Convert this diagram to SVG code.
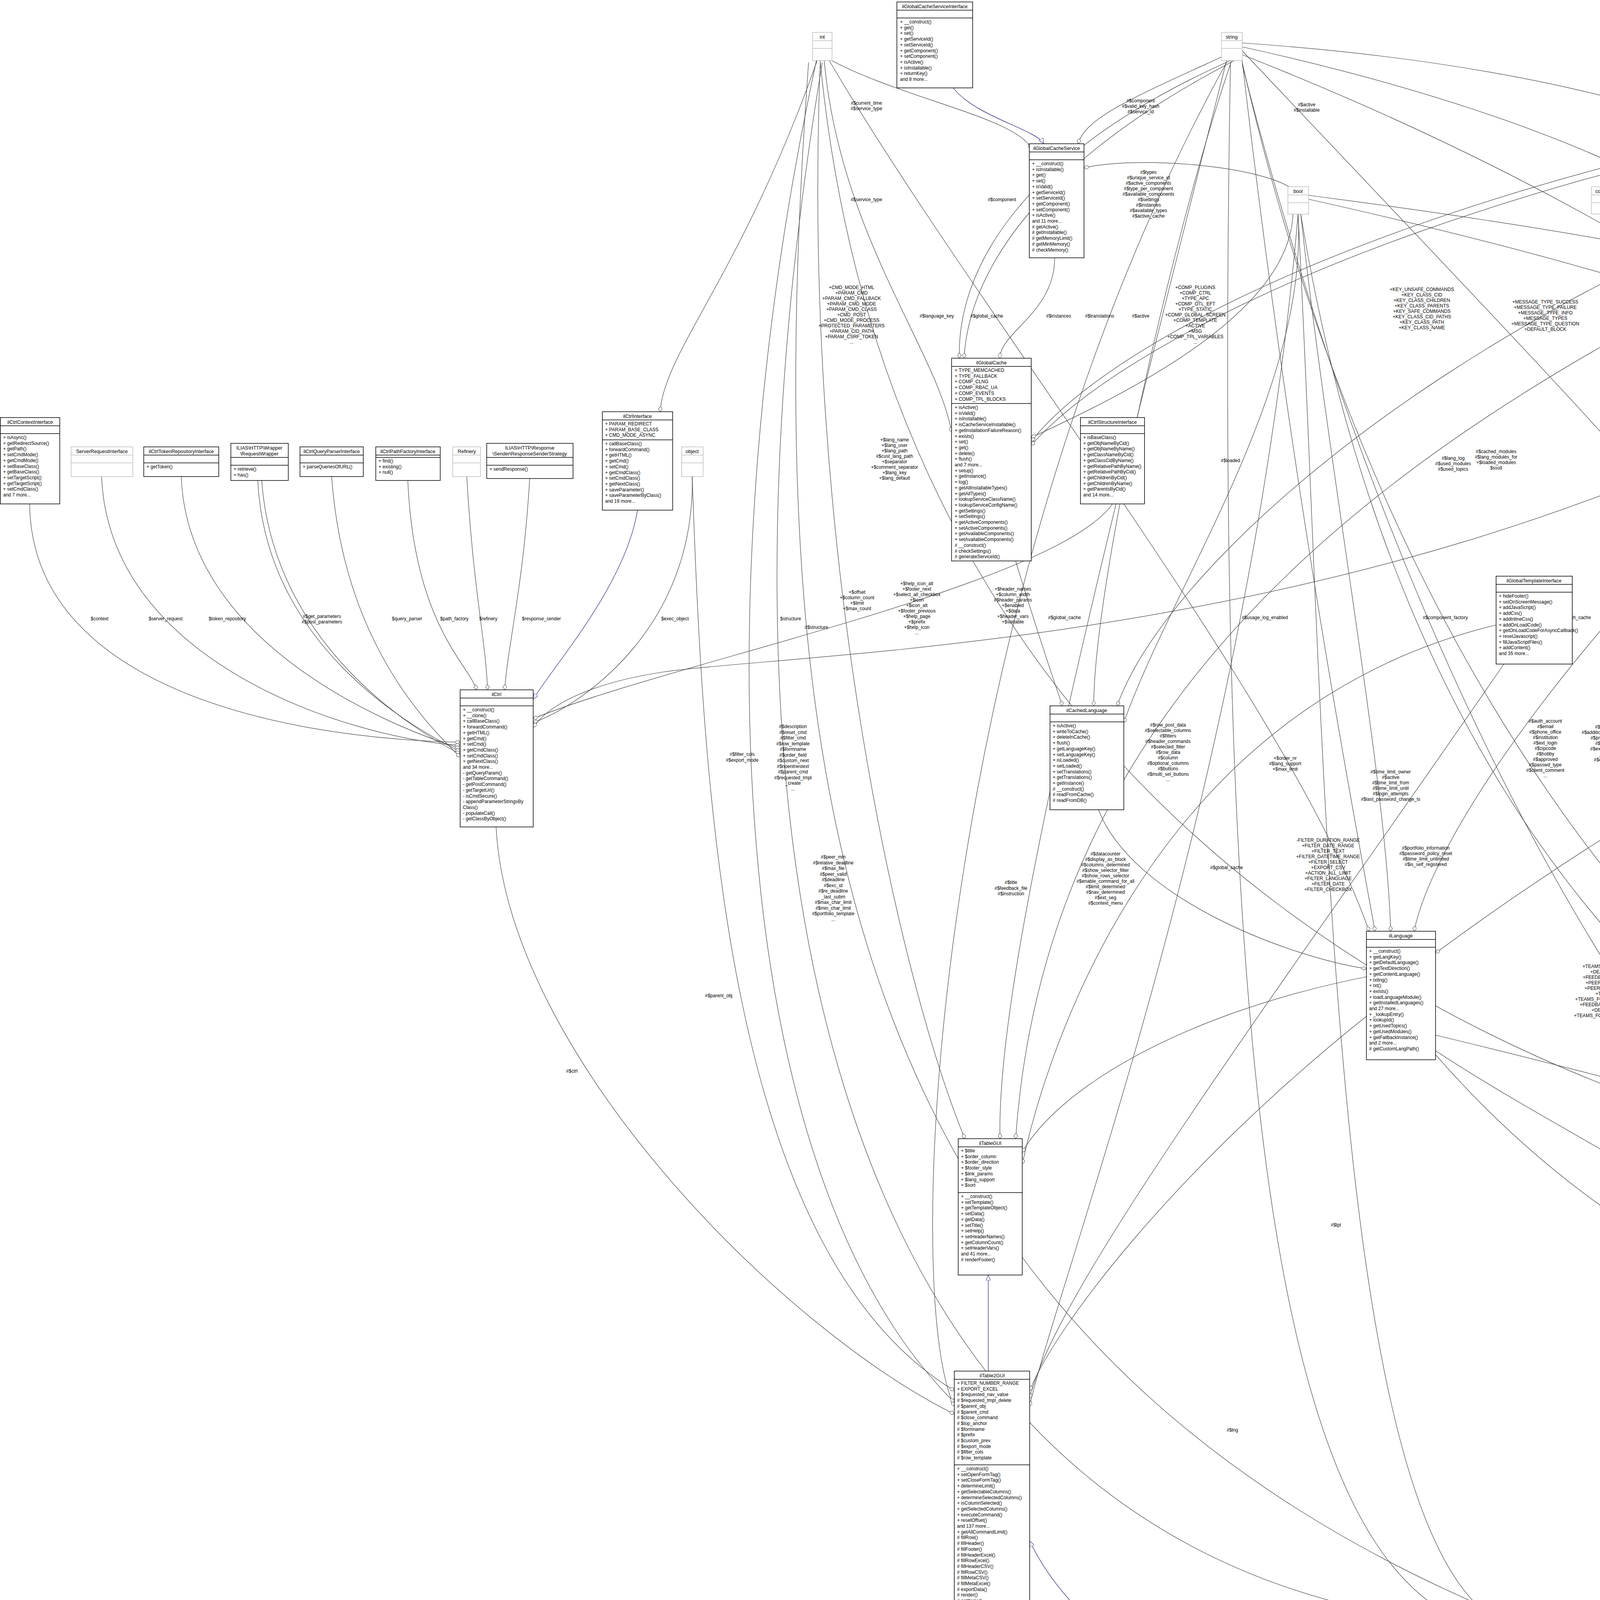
<svg xmlns="http://www.w3.org/2000/svg" width="7545" height="5201" viewBox="0 0 7545 5201">
<style>
.b{fill:#fff;stroke:#000;stroke-width:1.5}
.g{fill:#fff;stroke:#bfbfbf;stroke-width:1.5}
.gs{fill:#bfbfbf;stroke:#000;stroke-width:1.5}
.s{stroke:#000;stroke-width:1.5}
.sg{stroke:#bfbfbf;stroke-width:1.5}
.c{font-family:"Liberation Sans",Arial,sans-serif;font-size:12.5px;text-anchor:middle;fill:#000}
.m{font-family:"Liberation Sans",Arial,sans-serif;font-size:12px;fill:#000}
.l{font-family:"Liberation Sans",Arial,sans-serif;font-size:12px;text-anchor:middle;fill:#000}
.e{fill:none;stroke:#404040;stroke-width:1.2}
.i{fill:none;stroke:#191970;stroke-width:1.2}
.id{fill:none;stroke:#191970;stroke-width:1.2;stroke-dasharray:6,4}
</style>
<defs>
<marker id="agg" viewBox="0 0 14 10" refX="14" refY="5" markerWidth="14" markerHeight="10" markerUnits="userSpaceOnUse" orient="auto"><path d="M0,5 L7,0 L14,5 L7,10 z" fill="#fff" stroke="#404040"/></marker>
<marker id="inh" viewBox="0 0 14 12" refX="14" refY="6" markerWidth="14" markerHeight="12" markerUnits="userSpaceOnUse" orient="auto"><path d="M0,0 L14,6 L0,12 z" fill="#fff" stroke="#191970"/></marker>
</defs>
<rect width="7545" height="5201" fill="#fff"/>

<g id="edges">
<path class="i" marker-end="url(#inh)" d="M1632,1306 C1600,1500 1420,1700 1365,1790"/>
<path class="e" marker-end="url(#agg)" d="M76,1290 C80,1750 700,1890 1178,1900"/>
<path class="e" marker-end="url(#agg)" d="M260,1220 C280,1700 900,1890 1178,1908"/>
<path class="e" marker-end="url(#agg)" d="M464,1220 C480,1650 1000,1860 1178,1916"/>
<path class="e" marker-end="url(#agg)" d="M660,1230 C680,1650 1050,1860 1178,1924"/>
<path class="e" marker-end="url(#agg)" d="M670,1230 C700,1650 1060,1870 1178,1930"/>
<path class="e" marker-end="url(#agg)" d="M849,1220 C880,1650 1100,1860 1178,1938"/>
<path class="e" marker-end="url(#agg)" d="M1044,1230 C1060,1600 1200,1700 1220,1766"/>
<path class="e" marker-end="url(#agg)" d="M1195,1220 C1210,1500 1245,1650 1248,1766"/>
<path class="e" marker-end="url(#agg)" d="M1356,1225 C1340,1500 1300,1650 1292,1766"/>
<path class="e" marker-end="url(#agg)" d="M1772,1220 C1780,1600 1500,1800 1365,1850"/>
<path class="e" marker-end="url(#agg)" d="M2848,1290 C2700,1500 1700,1700 1365,1840"/>
<path class="e" marker-end="url(#agg)" d="M5760,140 C4500,1650 2200,1650 1700,1720 C1500,1750 1400,1810 1365,1862"/>
<path class="e" marker-end="url(#agg)" d="M2092,155 C1900,700 1700,900 1690,1054"/>
<path class="i" marker-end="url(#inh)" d="M2440,225 C2500,300 2650,330 2672,368"/>
<path class="e" marker-end="url(#agg)" d="M3140,140 C2900,250 2780,300 2760,368"/>
<path class="e" marker-end="url(#agg)" d="M2120,150 C2300,250 2600,300 2640,380"/>
<path class="e" marker-end="url(#agg)" d="M3300,478 C3200,420 2900,400 2775,430"/>
<path class="e" marker-end="url(#agg)" d="M2700,660 C2700,800 2560,850 2560,917"/>
<path class="e" marker-end="url(#agg)" d="M3150,155 C2600,400 2450,700 2456,917"/>
<path class="e" marker-end="url(#agg)" d="M3160,155 C2650,420 2480,700 2468,917"/>
<path class="e" marker-end="url(#agg)" d="M5760,150 C4000,300 2900,800 2640,1130"/>
<path class="e" marker-end="url(#agg)" d="M5760,155 C4000,320 2920,820 2640,1140"/>
<path class="e" marker-end="url(#agg)" d="M3310,548 C3300,800 2900,1000 2640,1120"/>
<path class="e" marker-end="url(#agg)" d="M2110,155 C2150,600 2400,900 2436,1106"/>
<path class="e" marker-end="url(#agg)" d="M2600,1436 C2650,1600 2700,1750 2720,1807"/>
<path class="e" marker-end="url(#agg)" d="M3323,548 C3350,1000 3000,1500 2877,1850"/>
<path class="e" marker-end="url(#agg)" d="M5760,160 C4000,500 3000,1400 2860,1807"/>
<path class="e" marker-end="url(#agg)" d="M3153,155 C3000,600 2800,1500 2800,1807"/>
<path class="e" marker-end="url(#agg)" d="M2812,2073 C2900,2300 3300,2450 3498,2480"/>
<path class="e" marker-end="url(#agg)" d="M6359,1200 C5000,1500 4000,2200 3675,2440"/>
<path class="e" marker-end="url(#agg)" d="M3180,155 C3300,1200 3450,2000 3520,2384"/>
<path class="e" marker-end="url(#agg)" d="M3330,548 C3400,1200 3550,2000 3560,2384"/>
<path class="e" marker-end="url(#agg)" d="M5760,165 C4500,1000 3700,2000 3620,2384"/>
<path class="e" marker-end="url(#agg)" d="M2120,150 C2500,800 3300,1800 3505,2384"/>
<path class="i" marker-end="url(#inh)" d="M2530,3510 L2530,3264"/>
<path class="e" marker-end="url(#agg)" d="M3140,155 C2800,1500 2550,2500 2560,2915"/>
<path class="e" marker-end="url(#agg)" d="M2100,155 C2050,1400 2300,2500 2470,2915"/>
<path class="e" marker-end="url(#agg)" d="M5760,150 C4000,800 2700,1500 2600,2915"/>
<path class="e" marker-end="url(#agg)" d="M3500,2500 C3000,2600 2700,2800 2617,2950"/>
<path class="e" marker-end="url(#agg)" d="M3830,1600 C3000,1800 2700,2600 2617,2980"/>
<path class="e" marker-end="url(#agg)" d="M1270,2117 C1300,2700 2000,3400 2443,3620"/>
<path class="e" marker-end="url(#agg)" d="M3140,160 C2400,1500 2300,3300 2443,3600"/>
<path class="e" marker-end="url(#agg)" d="M2090,155 C1800,1500 1850,3000 2443,3590"/>
<path class="e" marker-end="url(#agg)" d="M1772,1220 C1800,2000 1850,3200 2443,3560"/>
<path class="e" marker-end="url(#agg)" d="M3323,548 C3200,2000 2700,3300 2636,3600"/>
<path class="e" marker-end="url(#agg)" d="M3500,2600 C3000,3000 2700,3400 2636,3560"/>
<path class="e" marker-end="url(#agg)" d="M3850,1700 C3300,2500 2700,3300 2636,3580"/>
<path class="i" marker-end="url(#inh)" d="M5435,5110 C4200,4800 2900,4500 2636,3945"/>
<path class="i" marker-end="url(#inh)" d="M4900,1035 C4880,850 4720,780 4700,710"/>
<path class="i" marker-end="url(#inh)" d="M4910,1035 C4900,840 4740,770 4720,710"/>
<path class="e" marker-end="url(#agg)" d="M4278,155 C4300,600 4750,900 4800,1035"/>
<path class="e" marker-end="url(#agg)" d="M3180,120 C4000,300 4700,600 4820,1035"/>
<path class="e" marker-end="url(#agg)" d="M3350,510 C4200,700 4800,900 4840,1035"/>
<path class="e" marker-end="url(#agg)" d="M4124,520 C4300,800 4700,950 4860,1035"/>
<path class="e" marker-end="url(#agg)" d="M4124,530 C4350,820 4720,960 4870,1035"/>
<path class="i" marker-end="url(#inh)" d="M5310,610 C5300,800 5200,900 5180,1035"/>
<path class="e" marker-end="url(#agg)" d="M3180,110 C4500,200 5150,600 5150,1035"/>
<path class="e" marker-end="url(#agg)" d="M5786,155 C5500,700 5250,800 5220,1035"/>
<path class="e" marker-end="url(#agg)" d="M3350,500 C4500,650 5100,800 5130,1035"/>
<path class="e" marker-end="url(#agg)" d="M5790,155 C5600,600 5500,900 5500,1055"/>
<path class="e" marker-end="url(#agg)" d="M4870,1326 C4800,1600 4720,1750 4700,1824"/>
<path class="e" marker-end="url(#agg)" d="M5170,1315 C5000,1600 4700,1750 4680,1824"/>
<path class="e" marker-end="url(#agg)" d="M3180,130 C4000,1000 4600,1600 4620,1824"/>
<path class="e" marker-end="url(#agg)" d="M6500,500 C5500,1000 4800,1500 4720,1824"/>
<path class="e" marker-end="url(#agg)" d="M4124,548 C4200,1200 4500,1700 4600,1824"/>
<path class="e" marker-end="url(#agg)" d="M5200,1315 C5250,1600 5270,1700 5280,1757"/>
<path class="e" marker-end="url(#agg)" d="M5500,1305 L5400,1757"/>
<path class="e" marker-end="url(#agg)" d="M5786,155 C5700,1000 5430,1500 5420,1757"/>
<path class="e" marker-end="url(#agg)" d="M4400,1225 C4900,1500 5200,1600 5250,1757"/>
<path class="e" marker-end="url(#agg)" d="M3180,140 C4600,700 5300,1400 5330,1757"/>
<path class="e" marker-end="url(#agg)" d="M6226,548 C6226,800 6400,900 6400,1069"/>
<path class="e" marker-end="url(#agg)" d="M5800,2050 L5790,2396"/>
<path class="e" marker-end="url(#agg)" d="M6530,637 C6100,1500 5900,2300 5835,2410"/>
<path class="e" marker-end="url(#agg)" d="M6380,1290 C6000,1800 5900,2300 5835,2430"/>
<path class="e" marker-end="url(#agg)" d="M5786,155 C5760,1200 5760,2200 5760,2396"/>
<path class="e" marker-end="url(#agg)" d="M5795,155 C5780,1200 5780,2200 5775,2396"/>
<path class="e" marker-end="url(#agg)" d="M6640,637 L6430,1721"/>
<path class="e" marker-end="url(#agg)" d="M6420,1290 L6400,1721"/>
<path class="e" marker-end="url(#agg)" d="M6680,637 C6700,1500 6650,2300 6600,2426"/>
<path class="e" marker-end="url(#agg)" d="M6500,2164 L6540,2426"/>
<path class="e" marker-end="url(#agg)" d="M6400,1290 C6300,1600 6250,1850 6240,1890"/>
<path class="e" marker-end="url(#agg)" d="M5500,1305 C5700,1600 6100,1700 6200,1890"/>
<path class="e" marker-end="url(#agg)" d="M4350,1225 C4800,1700 5900,1680 6180,1890"/>
<path class="e" marker-end="url(#agg)" d="M5813,120 C6800,300 7100,900 6540,1740"/>
<path class="e" marker-end="url(#agg)" d="M3675,2650 C4300,2800 4800,2950 5156,3014"/>
<path class="e" marker-end="url(#agg)" d="M3180,160 C3600,2000 4600,2900 5156,3030"/>
<path class="e" marker-end="url(#agg)" d="M2100,160 C2300,2200 4000,2900 5156,3045"/>
<path class="e" marker-end="url(#agg)" d="M3330,548 C3600,2200 4500,2900 5156,3060"/>
<path class="e" marker-end="url(#agg)" d="M4660,2080 C4800,2600 5000,2900 5156,3072"/>
<path class="e" marker-end="url(#agg)" d="M5680,2703 C5600,2800 5450,2790 5373,2810"/>
<path class="e" marker-end="url(#agg)" d="M5340,2125 C5300,2500 5300,2700 5300,2779"/>
<path class="e" marker-end="url(#agg)" d="M6230,2000 C6100,2500 5600,2750 5373,2790"/>
<path class="e" marker-end="url(#agg)" d="M6400,2164 C6300,2500 5500,2700 5373,2800"/>
<path class="e" marker-end="url(#agg)" d="M6500,2675 C6200,2800 5500,2790 5373,2830"/>
<path class="e" marker-end="url(#agg)" d="M6620,637 C7000,1500 6800,2600 5373,2845"/>
<path class="e" marker-end="url(#agg)" d="M6420,1290 C6800,2200 6300,2750 5373,2860"/>
<path class="i" marker-end="url(#inh)" d="M5265,3461 L5265,3397"/>
<path class="e" marker-end="url(#agg)" d="M5235,3461 C5232,3430 5236,3410 5238,3397"/>
<path class="e" marker-end="url(#agg)" d="M3675,2700 C4200,3300 4800,3460 5156,3465"/>
<path class="e" marker-end="url(#agg)" d="M4660,2080 C4700,2600 5000,3300 5156,3470"/>
<path class="e" marker-end="url(#agg)" d="M3180,165 C3700,2200 4600,3350 5156,3475"/>
<path class="e" marker-end="url(#agg)" d="M6560,637 C7100,2000 6200,3500 5368,3710"/>
<path class="e" marker-end="url(#agg)" d="M5800,155 C6200,1500 6000,3400 5368,3725"/>
<path class="e" marker-end="url(#agg)" d="M5330,4212 C5380,4250 5405,4265 5415,4280"/>
<path class="e" marker-end="url(#agg)" d="M5050,3933 C5100,4200 5300,4400 5406,4490"/>
<path class="e" marker-end="url(#agg)" d="M6440,3933 C6300,4400 5800,4550 5642,4600"/>
<path class="e" marker-end="url(#agg)" d="M6100,3875 C6000,4300 5700,4550 5642,4560"/>
<path class="e" marker-end="url(#agg)" d="M6720,637 C7250,1800 7150,3600 5642,4525"/>
<path class="e" marker-end="url(#agg)" d="M3150,160 C3100,3000 3300,4180 3900,4180 C4500,4200 5200,4430 5406,4440"/>
<path class="e" marker-end="url(#agg)" d="M2105,160 C1800,2000 2000,4100 3900,4170 C4500,4190 5200,4440 5406,4450"/>
<path class="e" marker-end="url(#agg)" d="M3323,548 C3400,2000 3400,4150 3920,4175 C4500,4200 5200,4445 5406,4458"/>
<path class="e" marker-end="url(#agg)" d="M3675,2690 C4300,3100 5200,3400 5406,4380"/>
<path class="e" marker-end="url(#agg)" d="M2070,160 C1900,2500 2300,4100 5406,4530"/>
<path class="e" marker-end="url(#agg)" d="M5524,4982 L5524,5048"/>
<path class="e" marker-end="url(#agg)" d="M5813,140 C7300,400 7400,4500 5620,5130"/>
<path class="e" marker-end="url(#agg)" d="M5813,150 C6900,600 7100,2000 6600,2700 C6200,3300 5800,3700 5642,4320"/>
<path class="id" marker-end="url(#inh)" d="M5960,3214 C5980,3500 6050,3700 6080,3798"/>
<path class="id" marker-end="url(#inh)" d="M6200,3170 C6180,3450 6120,3700 6105,3798"/>
<path class="id" marker-end="url(#inh)" d="M6460,3200 C6400,3500 6150,3700 6125,3798"/>
<path class="e" marker-end="url(#agg)" d="M6640,3120 C6620,3400 6500,3600 6490,3742"/>
<path class="e" marker-end="url(#agg)" d="M6620,637 C6900,1800 6500,2700 6480,2975"/>
<path class="e" marker-end="url(#agg)" d="M6420,1290 C6300,2200 6000,2700 5980,2962"/>
<path class="e" marker-end="url(#agg)" d="M5800,160 C6300,1200 7100,2700 6650,3050"/>
</g>

<g id="labels">
<text class="l" x="2180" y="740"><tspan x="2180">+CMD_MODE_HTML</tspan><tspan x="2180" dy="14">+PARAM_CMD</tspan><tspan x="2180" dy="14">+PARAM_CMD_FALLBACK</tspan><tspan x="2180" dy="14">+PARAM_CMD_MODE</tspan><tspan x="2180" dy="14">+PARAM_CMD_CLASS</tspan><tspan x="2180" dy="14">+CMD_POST</tspan><tspan x="2180" dy="14">+CMD_MODE_PROCESS</tspan><tspan x="2180" dy="14">+PROTECTED_PARAMETERS</tspan><tspan x="2180" dy="14">+PARAM_CID_PATH</tspan><tspan x="2180" dy="14">+PARAM_CSRF_TOKEN</tspan><tspan x="2180" dy="14">...</tspan></text>
<text class="l" x="2398" y="813">#$language_key</text>
<text class="l" x="2526" y="813">#$global_cache</text>
<text class="l" x="2710" y="813">#$instances</text>
<text class="l" x="2815" y="813">#$translations</text>
<text class="l" x="2920" y="813">#$active</text>
<text class="l" x="3060" y="740"><tspan x="3060">+COMP_PLUGINS</tspan><tspan x="3060" dy="14">+COMP_CTRL</tspan><tspan x="3060" dy="14">+TYPE_APC</tspan><tspan x="3060" dy="14">+COMP_OTL_EFT</tspan><tspan x="3060" dy="14">+TYPE_STATIC</tspan><tspan x="3060" dy="14">+COMP_GLOBAL_SCREEN</tspan><tspan x="3060" dy="14">+COMP_TEMPLATE</tspan><tspan x="3060" dy="14">+ACTIVE</tspan><tspan x="3060" dy="14">+MSG</tspan><tspan x="3060" dy="14">+COMP_TPL_VARIABLES</tspan><tspan x="3060" dy="14">...</tspan></text>
<text class="l" x="2218" y="268"><tspan x="2218">#$current_time</tspan><tspan x="2218" dy="14">#$service_type</tspan></text>
<text class="l" x="2920" y="262"><tspan x="2920">#$component</tspan><tspan x="2920" dy="14">#$valid_key_hash</tspan><tspan x="2920" dy="14">#$service_id</tspan></text>
<text class="l" x="3345" y="272"><tspan x="3345">#$active</tspan><tspan x="3345" dy="14">#$installable</tspan></text>
<text class="l" x="2218" y="515">#$service_type</text>
<text class="l" x="2565" y="515">#$component</text>
<text class="l" x="2940" y="445"><tspan x="2940">#$types</tspan><tspan x="2940" dy="14">#$unique_service_id</tspan><tspan x="2940" dy="14">#$active_components</tspan><tspan x="2940" dy="14">#$type_per_component</tspan><tspan x="2940" dy="14">#$available_components</tspan><tspan x="2940" dy="14">#$settings</tspan><tspan x="2940" dy="14">#$instances</tspan><tspan x="2940" dy="14">#$available_types</tspan><tspan x="2940" dy="14">#$active_cache</tspan></text>
<text class="l" x="3640" y="745"><tspan x="3640">+KEY_UNSAFE_COMMANDS</tspan><tspan x="3640" dy="14">+KEY_CLASS_CID</tspan><tspan x="3640" dy="14">+KEY_CLASS_CHILDREN</tspan><tspan x="3640" dy="14">+KEY_CLASS_PARENTS</tspan><tspan x="3640" dy="14">+KEY_SAFE_COMMANDS</tspan><tspan x="3640" dy="14">+KEY_CLASS_CID_PATHS</tspan><tspan x="3640" dy="14">+KEY_CLASS_PATH</tspan><tspan x="3640" dy="14">+KEY_CLASS_NAME</tspan></text>
<text class="l" x="2290" y="1130"><tspan x="2290">+$lang_name</tspan><tspan x="2290" dy="14">+$lang_user</tspan><tspan x="2290" dy="14">+$lang_path</tspan><tspan x="2290" dy="14">#$cust_lang_path</tspan><tspan x="2290" dy="14">+$separator</tspan><tspan x="2290" dy="14">+$comment_separator</tspan><tspan x="2290" dy="14">+$lang_key</tspan><tspan x="2290" dy="14">+$lang_default</tspan></text>
<text class="l" x="3150" y="1183">#$loaded</text>
<text class="l" x="3720" y="1177"><tspan x="3720">#$lang_log</tspan><tspan x="3720" dy="14">#$used_modules</tspan><tspan x="3720" dy="14">#$used_topics</tspan></text>
<text class="l" x="1682" y="1165">#$stacktrace</text>
<text class="l" x="255" y="1588">$context</text>
<text class="l" x="424" y="1588">$server_request</text>
<text class="l" x="582" y="1588">$token_repository</text>
<text class="l" x="824" y="1582"><tspan x="824">#$get_parameters</tspan><tspan x="824" dy="14">#$post_parameters</tspan></text>
<text class="l" x="1042" y="1588">$query_parser</text>
<text class="l" x="1163" y="1588">$path_factory</text>
<text class="l" x="1250" y="1588">$refinery</text>
<text class="l" x="1386" y="1588">$response_sender</text>
<text class="l" x="1728" y="1588">$exec_object</text>
<text class="l" x="2024" y="1588">$structure</text>
<text class="l" x="2194" y="1520"><tspan x="2194">+$offset</tspan><tspan x="2194" dy="14">+$column_count</tspan><tspan x="2194" dy="14">+$limit</tspan><tspan x="2194" dy="14">+$max_count</tspan></text>
<text class="l" x="2347" y="1498"><tspan x="2347">+$help_icon_alt</tspan><tspan x="2347" dy="14">+$footer_next</tspan><tspan x="2347" dy="14">+$select_all_checkbox</tspan><tspan x="2347" dy="14">+$icon</tspan><tspan x="2347" dy="14">+$icon_alt</tspan><tspan x="2347" dy="14">+$footer_previous</tspan><tspan x="2347" dy="14">+$help_page</tspan><tspan x="2347" dy="14">+$prefix</tspan><tspan x="2347" dy="14">+$help_icon</tspan><tspan x="2347" dy="14">...</tspan></text>
<text class="l" x="2593" y="1512"><tspan x="2593">+$header_names</tspan><tspan x="2593" dy="14">+$column_width</tspan><tspan x="2593" dy="14">#$header_params</tspan><tspan x="2593" dy="14">+$enabled</tspan><tspan x="2593" dy="14">+$data</tspan><tspan x="2593" dy="14">+$header_vars</tspan><tspan x="2593" dy="14">+$sortable</tspan></text>
<text class="l" x="2725" y="1585">#$global_cache</text>
<text class="l" x="2090" y="1610">#$structure</text>
<text class="l" x="3238" y="1585">#$usage_log_enabled</text>
<text class="l" x="3700" y="1585">#$component_factory</text>
<text class="l" x="2030" y="1864"><tspan x="2030">#$description</tspan><tspan x="2030" dy="14.5">#$reset_cmd</tspan><tspan x="2030" dy="14.5">#$filter_cmd</tspan><tspan x="2030" dy="14.5">#$row_template</tspan><tspan x="2030" dy="14.5">#$formname</tspan><tspan x="2030" dy="14.5">#$order_field</tspan><tspan x="2030" dy="14.5">#$custom_next</tspan><tspan x="2030" dy="14.5">#$noentriestext</tspan><tspan x="2030" dy="14.5">#$parent_cmd</tspan><tspan x="2030" dy="14.5">#$requested_tmpl</tspan><tspan x="2030" dy="14.5">_create</tspan><tspan x="2030" dy="14.5">...</tspan></text>
<text class="l" x="1900" y="1935"><tspan x="1900">#$filter_cols</tspan><tspan x="1900" dy="14.5">#$export_mode</tspan></text>
<text class="l" x="2133" y="2198"><tspan x="2133">#$peer_min</tspan><tspan x="2133" dy="14.5">#$relative_deadline</tspan><tspan x="2133" dy="14.5">#$max_file</tspan><tspan x="2133" dy="14.5">#$peer_valid</tspan><tspan x="2133" dy="14.5">#$deadline</tspan><tspan x="2133" dy="14.5">#$exc_id</tspan><tspan x="2133" dy="14.5">#$re_deadline</tspan><tspan x="2133" dy="14.5">_last_subm</tspan><tspan x="2133" dy="14.5">#$max_char_limit</tspan><tspan x="2133" dy="14.5">#$min_char_limit</tspan><tspan x="2133" dy="14.5">#$portfolio_template</tspan><tspan x="2133" dy="14.5">...</tspan></text>
<text class="l" x="2588" y="2263"><tspan x="2588">#$title</tspan><tspan x="2588" dy="14.5">#$feedback_file</tspan><tspan x="2588" dy="14.5">#$instruction</tspan></text>
<text class="l" x="1840" y="2553">#$parent_obj</text>
<text class="l" x="1464" y="2746">#$ctrl</text>
<text class="l" x="2990" y="1860"><tspan x="2990">#$row_post_data</tspan><tspan x="2990" dy="14">#$selectable_columns</tspan><tspan x="2990" dy="14">#$filters</tspan><tspan x="2990" dy="14">#$header_commands</tspan><tspan x="2990" dy="14">#$selected_filter</tspan><tspan x="2990" dy="14">#$row_data</tspan><tspan x="2990" dy="14">#$column</tspan><tspan x="2990" dy="14">#$optional_columns</tspan><tspan x="2990" dy="14">#$buttons</tspan><tspan x="2990" dy="14">#$multi_sel_buttons</tspan><tspan x="2990" dy="14">...</tspan></text>
<text class="l" x="3290" y="1945"><tspan x="3290">+$order_nr</tspan><tspan x="3290" dy="14">#$lang_support</tspan><tspan x="3290" dy="14">+$max_limit</tspan></text>
<text class="l" x="3560" y="1980"><tspan x="3560">#$time_limit_owner</tspan><tspan x="3560" dy="14">#$active</tspan><tspan x="3560" dy="14">#$time_limit_from</tspan><tspan x="3560" dy="14">#$time_limit_until</tspan><tspan x="3560" dy="14">#$login_attempts</tspan><tspan x="3560" dy="14">#$last_password_change_ts</tspan></text>
<text class="l" x="2830" y="2190"><tspan x="2830">#$datacounter</tspan><tspan x="2830" dy="14">#$display_as_block</tspan><tspan x="2830" dy="14">#$columns_determined</tspan><tspan x="2830" dy="14">#$show_selector_filter</tspan><tspan x="2830" dy="14">#$show_rows_selector</tspan><tspan x="2830" dy="14">#$enable_command_for_all</tspan><tspan x="2830" dy="14">#$limit_determined</tspan><tspan x="2830" dy="14">#$nav_determined</tspan><tspan x="2830" dy="14">#$ext_seg</tspan><tspan x="2830" dy="14">#$context_menu</tspan></text>
<text class="l" x="3140" y="2225">#$global_cache</text>
<text class="l" x="3400" y="2155"><tspan x="3400">-FILTER_DURATION_RANGE</tspan><tspan x="3400" dy="14">+FILTER_DATE_RANGE</tspan><tspan x="3400" dy="14">+FILTER_TEXT</tspan><tspan x="3400" dy="14">+FILTER_DATETIME_RANGE</tspan><tspan x="3400" dy="14">+FILTER_SELECT</tspan><tspan x="3400" dy="14">+EXPORT_CSV</tspan><tspan x="3400" dy="14">+ACTION_ALL_LIMIT</tspan><tspan x="3400" dy="14">+FILTER_LANGUAGE</tspan><tspan x="3400" dy="14">+FILTER_DATE</tspan><tspan x="3400" dy="14">+FILTER_CHECKBOX</tspan></text>
<text class="l" x="3650" y="2175"><tspan x="3650">#$portfolio_information</tspan><tspan x="3650" dy="14">#$password_policy_reset</tspan><tspan x="3650" dy="14">#$time_limit_unlimited</tspan><tspan x="3650" dy="14">#$is_self_registered</tspan></text>
<text class="l" x="3956" y="777"><tspan x="3956">+MESSAGE_TYPE_SUCCESS</tspan><tspan x="3956" dy="14">+MESSAGE_TYPE_FAILURE</tspan><tspan x="3956" dy="14">+MESSAGE_TYPE_INFO</tspan><tspan x="3956" dy="14">+MESSAGE_TYPES</tspan><tspan x="3956" dy="14">+MESSAGE_TYPE_QUESTION</tspan><tspan x="3956" dy="14">+DEFAULT_BLOCK</tspan></text>
<text class="l" x="4242" y="505"><tspan x="4242">-SMTPDEBUG</tspan><tspan x="4242" dy="14">-SPATIAL</tspan><tspan x="4242" dy="14">-SWARNING</tspan></text>
<text class="l" x="4380" y="513">#$message</text>
<text class="l" x="4180" y="812">#$DEBUG_ENV</text>
<text class="l" x="4340" y="812">#$cache_classes</text>
<text class="l" x="4540" y="805"><tspan x="4540">+SENSITIVE_PARAMETER</tspan><tspan x="4540" dy="14">_NAMES</tspan></text>
<text class="l" x="4710" y="805"><tspan x="4710">+INI_FILE</tspan><tspan x="4710" dy="14">-$client_id</tspan></text>
<text class="l" x="4890" y="812">#$message</text>
<text class="l" x="5250" y="812">+PLUGIN_BASE_PATH</text>
<text class="l" x="4960" y="513">#$whoops_handlers_registered</text>
<text class="l" x="5170" y="513">#$module</text>
<text class="l" x="5520" y="505"><tspan x="5520">-$settings_cache</tspan><tspan x="5520" dy="14">-$value_type</tspan></text>
<text class="l" x="5770" y="513">#$setting</text>
<text class="l" x="5510" y="795"><tspan x="5510">#$current_tag_name</tspan><tspan x="5510" dy="14">#$current_tag_name</tspan><tspan x="5510" dy="14">#$current_tag</tspan></text>
<text class="l" x="5690" y="812">#$db</text>
<text class="l" x="5860" y="795"><tspan x="5860">#$obj_data</tspan><tspan x="5860" dy="14">#$obj_group</tspan><tspan x="5860" dy="14">#$sub_types</tspan></text>
<text class="l" x="6240" y="812">-$logger</text>
<text class="l" x="6550" y="795"><tspan x="6550">#$is_assigned_cache</tspan><tspan x="6550" dy="14">-$role_cache</tspan><tspan x="6550" dy="14">#$assigned_users_cache</tspan></text>
<text class="l" x="6840" y="812">#$ilias</text>
<text class="l" x="3830" y="1160"><tspan x="3830">#$cached_modules</tspan><tspan x="3830" dy="14">#$lang_modules_for</tspan><tspan x="3830" dy="14">+$loaded_modules</tspan><tspan x="3830" dy="14">$ssoll</tspan></text>
<text class="l" x="4640" y="1150"><tspan x="4640">+MODE_REPOSITORY</tspan><tspan x="4640" dy="14">+MODE_ADMINISTRATION</tspan><tspan x="4640" dy="14">+MODE_WORKSPACE</tspan></text>
<text class="l" x="5800" y="1140"><tspan x="5800">#$tree_id</tspan><tspan x="5800" dy="14">#$gap</tspan><tspan x="5800" dy="14">#$root_id</tspan></text>
<text class="l" x="5900" y="1140"><tspan x="5900">#$table_obj_data</tspan><tspan x="5900" dy="14">#$ref_pk</tspan><tspan x="5900" dy="14">#$table_obj_reference</tspan><tspan x="5900" dy="14">#$lang_code</tspan><tspan x="5900" dy="14">#$obj_pk</tspan><tspan x="5900" dy="14">#$tree_pk</tspan><tspan x="5900" dy="14">#$table_tree</tspan></text>
<text class="l" x="6040" y="1145"><tspan x="6040">+FILTER_NOT_INTERNAL</tspan><tspan x="6040" dy="14">+FILTER_ALL_GLOBAL</tspan><tspan x="6040" dy="14">+FILTER_ALL</tspan><tspan x="6040" dy="14">+FILTER_INTERNAL</tspan><tspan x="6040" dy="14">+FILTER_TEMPLATES</tspan><tspan x="6040" dy="14">+FILTER_ALL_LOCAL</tspan></text>
<text class="l" x="6250" y="1135"><tspan x="6250">#$is_preloaded</tspan><tspan x="6250" dy="14">#$operation_cache</tspan><tspan x="6250" dy="14">#$is_saved_cache</tspan><tspan x="6250" dy="14">#$is_tree_cache</tspan><tspan x="6250" dy="14">#$entry_id_cache</tspan><tspan x="6250" dy="14">#$parent_cache</tspan><tspan x="6250" dy="14">#$parent_type_cache</tspan><tspan x="6250" dy="14">#$depth_cache</tspan></text>
<text class="l" x="4460" y="1490"><tspan x="4460">+TREE_TYPE_NESTED_SET</tspan><tspan x="4460" dy="14">+RELATION_PARENT</tspan><tspan x="4460" dy="14">+RELATION_CHILD</tspan><tspan x="4460" dy="14">+TREE_TYPE_MATERIALIZED</tspan><tspan x="4460" dy="14">_PATH</tspan><tspan x="4460" dy="14">#DEFAULT_LANGUAGE</tspan><tspan x="4460" dy="14">+RELATION_SIBLING</tspan><tspan x="4460" dy="14">+POS_FIRST_NODE</tspan><tspan x="4460" dy="14">+RELATION_EQUALS</tspan><tspan x="4460" dy="14">+POS_LAST_NODE</tspan><tspan x="4460" dy="14">+RELATION_NONE</tspan><tspan x="4460" dy="14">...</tspan></text>
<text class="l" x="4035" y="1585">#$auth_cache</text>
<text class="l" x="4670" y="1585">#$error</text>
<text class="l" x="4780" y="1585">#$setting</text>
<text class="l" x="5000" y="1585">#$component_factory</text>
<text class="l" x="5180" y="1515"><tspan x="5180">#$create_date</tspan><tspan x="5180" dy="14">#$desc</tspan><tspan x="5180" dy="14">#$title</tspan><tspan x="5180" dy="14">#$long_desc</tspan><tspan x="5180" dy="14">#$import_id</tspan><tspan x="5180" dy="14">+$untranslatedTitle</tspan><tspan x="5180" dy="14">#$type</tspan><tspan x="5180" dy="14">#$owner</tspan><tspan x="5180" dy="14">#$last_update</tspan></text>
<text class="l" x="5330" y="1660">#$settings</text>
<text class="l" x="5580" y="1585">#$component_repository</text>
<text class="l" x="5970" y="1585">#$db</text>
<text class="l" x="6140" y="1600">#$component_repository</text>
<text class="l" x="6270" y="1585">#$logger</text>
<text class="l" x="6330" y="1660">#$log</text>
<text class="l" x="6740" y="1585">#$db</text>
<text class="l" x="6880" y="1585">#$objectList</text>
<text class="l" x="4430" y="1922"><tspan x="4430">+TABLE_OBJECT_DATA</tspan><tspan x="4430" dy="14">+LONG_DESC_LENGTH</tspan><tspan x="4430" dy="14">+TITLE_LENGTH</tspan><tspan x="4430" dy="14">+DESC_LENGTH</tspan></text>
<text class="l" x="3956" y="1850"><tspan x="3956">#$auth_account</tspan><tspan x="3956" dy="14">#$email</tspan><tspan x="3956" dy="14">#$phone_office</tspan><tspan x="3956" dy="14">#$institution</tspan><tspan x="3956" dy="14">#$ext_login</tspan><tspan x="3956" dy="14">#$zipcode</tspan><tspan x="3956" dy="14">#$hobby</tspan><tspan x="3956" dy="14">#$approved</tspan><tspan x="3956" dy="14">#$passwd_type</tspan><tspan x="3956" dy="14">#$client_comment</tspan><tspan x="3956" dy="14">...</tspan></text>
<text class="l" x="4110" y="1865"><tspan x="4110">#$register</tspan><tspan x="4110" dy="14">#$additional_reference</tspan><tspan x="4110" dy="14">#$preferences</tspan><tspan x="4110" dy="14">#$referrer</tspan><tspan x="4110" dy="14">#$ext_account</tspan><tspan x="4110" dy="14">_code</tspan><tspan x="4110" dy="14">#$ext_data</tspan></text>
<text class="l" x="5560" y="1935">#$obj_definition</text>
<text class="l" x="6060" y="2090">#$logger</text>
<text class="l" x="6600" y="1935">#$rbacreview</text>
<text class="l" x="6780" y="1935">#$db</text>
<text class="l" x="7040" y="1935">#$password_image_name</text>
<text class="l" x="7300" y="1935">#$member_status</text>
<text class="l" x="7420" y="1895"><tspan x="7420">#$prefs</tspan><tspan x="7420" dy="14">#$user_defined_data</tspan><tspan x="7420" dy="14">#$login_attempts</tspan><tspan x="7420" dy="14">#$inactivation_date</tspan><tspan x="7420" dy="14">#$id</tspan><tspan x="7420" dy="14">#$sel_pw_type</tspan></text>
<text class="l" x="4340" y="2260"><tspan x="4340">+PASSWD_CRYPTED</tspan><tspan x="4340" dy="14">+PASSWD_PLAIN</tspan></text>
<text class="l" x="4180" y="2283">#$ilias</text>
<text class="l" x="4510" y="2283">#$error</text>
<text class="l" x="5270" y="2283">#$tree_impl</text>
<text class="l" x="5850" y="2275"><tspan x="5850">#$obj_log</tspan><tspan x="5850" dy="14">#$log</tspan></text>
<text class="l" x="6210" y="2283">#$event_handler</text>
<text class="l" x="6420" y="2300">#$rbacreview</text>
<text class="l" x="4140" y="2478"><tspan x="4140">+TEAMS_FORMED_BY_TUTOR</tspan><tspan x="4140" dy="14">+DEADLINE_ABSOLUTE</tspan><tspan x="4140" dy="14">+FEEDBACK_DATE_DEADLINE</tspan><tspan x="4140" dy="14">+PEER_REVIEW_VALID_ALL</tspan><tspan x="4140" dy="14">+PEER_REVIEW_VALID_ONE</tspan><tspan x="4140" dy="14">+TYPE_WIKI_TEAM</tspan><tspan x="4140" dy="14">+TEAMS_FORMED_BY_ASSIGNMENT</tspan><tspan x="4140" dy="14">+FEEDBACK_DATE_SUBMISSION</tspan><tspan x="4140" dy="14">+DEADLINE_RELATIVE</tspan><tspan x="4140" dy="14">+TEAMS_FORMED_BY_PARTICIPANTS</tspan></text>
<text class="l" x="4210" y="2742">#$table_request</text>
<text class="l" x="4767" y="2552">#$ilias</text>
<text class="l" x="5200" y="2583">#$obj_definition</text>
<text class="l" x="5940" y="2583">#$app_event_handler</text>
<text class="l" x="6140" y="2620">#$access</text>
<text class="l" x="5310" y="3440">#$user</text>
<text class="l" x="5440" y="4248">#$user</text>
<text class="l" x="5150" y="4040">#$type</text>
<text class="l" x="5560" y="5032">#$ass</text>
<text class="l" x="6000" y="4140">#$access</text>
<text class="l" x="6350" y="4140">#$types</text>
<text class="l" x="6640" y="3400">#$exercise</text>
<text class="l" x="5520" y="3600">#$lng</text>
<text class="l" x="4160" y="3895">#$lng</text>
<text class="l" x="3420" y="3140">#$tpl</text>
<text class="l" x="3155" y="3665">#$lng</text>
</g>

<g id="n_int"><rect class="g" x="2080" y="83" width="50" height="72"/><text class="c" x="2105" y="99">int</text><line class="sg" x1="2080" y1="104" x2="2130" y2="104"/><line class="sg" x1="2080" y1="124" x2="2130" y2="124"/></g>
<g id="n_string"><rect class="g" x="3127" y="83" width="53" height="72"/><text class="c" x="3153" y="99">string</text><line class="sg" x1="3127" y1="104" x2="3180" y2="104"/><line class="sg" x1="3127" y1="124" x2="3180" y2="124"/></g>
<g id="n_bool"><rect class="g" x="3297" y="478" width="53" height="70"/><text class="c" x="3323" y="494">bool</text><line class="sg" x1="3297" y1="499" x2="3350" y2="499"/><line class="sg" x1="3297" y1="519" x2="3350" y2="519"/></g>
<g id="n_static"><rect class="g" x="4251" y="71" width="54" height="84"/><text class="c" x="4278" y="87">static</text><line class="sg" x1="4251" y1="92" x2="4305" y2="92"/><line class="sg" x1="4251" y1="112" x2="4305" y2="112"/></g>
<g id="n_array"><rect class="g" x="5759" y="71" width="54" height="84"/><text class="c" x="5786" y="87">array</text><line class="sg" x1="5759" y1="92" x2="5813" y2="92"/><line class="sg" x1="5759" y1="112" x2="5813" y2="112"/></g>
<g id="n_const"><rect class="g" x="4074" y="478" width="50" height="70"/><text class="c" x="4099" y="494">const</text><line class="sg" x1="4074" y1="499" x2="4124" y2="499"/><line class="sg" x1="4074" y1="519" x2="4124" y2="519"/></g>
<g id="n_Traversable"><rect class="g" x="4452" y="478" width="88" height="70"/><text class="c" x="4496" y="494">Traversable</text><line class="sg" x1="4452" y1="499" x2="4540" y2="499"/><line class="sg" x1="4452" y1="519" x2="4540" y2="519"/></g>
<g id="n_Logger"><rect class="g" x="6199" y="478" width="54" height="70"/><text class="c" x="6226" y="494">Logger</text><line class="sg" x1="6199" y1="499" x2="6253" y2="499"/><line class="sg" x1="6199" y1="519" x2="6253" y2="519"/></g>
<g id="n_object"><rect class="g" x="1745" y="1144" width="55" height="76"/><text class="c" x="1772" y="1160">object</text><line class="sg" x1="1745" y1="1165" x2="1800" y2="1165"/><line class="sg" x1="1745" y1="1185" x2="1800" y2="1185"/></g>
<g id="n_Refinery"><rect class="g" x="1159" y="1144" width="71" height="76"/><text class="c" x="1195" y="1160">Refinery</text><line class="sg" x1="1159" y1="1165" x2="1230" y2="1165"/><line class="sg" x1="1159" y1="1185" x2="1230" y2="1185"/></g>
<g id="n_ServerRequestInterface"><rect class="g" x="182" y="1144" width="158" height="76"/><text class="c" x="261" y="1160">ServerRequestInterface</text><line class="sg" x1="182" y1="1165" x2="340" y2="1165"/><line class="sg" x1="182" y1="1185" x2="340" y2="1185"/></g>
<g id="n_Closure"><rect class="g" x="6604" y="3050" width="76" height="70"/><text class="c" x="6642" y="3066">Closure</text><line class="sg" x1="6604" y1="3071" x2="6680" y2="3071"/><line class="sg" x1="6604" y1="3091" x2="6680" y2="3091"/></g>

<g id="n_ilGlobalCacheServiceInterface"><rect class="b" x="2296" y="5" width="194" height="220"/><text class="c" x="2393" y="21">ilGlobalCacheServiceInterface</text><line class="s" x1="2296" y1="26" x2="2490" y2="26"/><line class="s" x1="2296" y1="46" x2="2490" y2="46"/><text class="m" x="2304" y="60"><tspan x="2304">+ __construct()</tspan><tspan x="2304" dy="14.7">+ get()</tspan><tspan x="2304" dy="14.7">+ set()</tspan><tspan x="2304" dy="14.7">+ getServiceId()</tspan><tspan x="2304" dy="14.7">+ setServiceId()</tspan><tspan x="2304" dy="14.7">+ getComponent()</tspan><tspan x="2304" dy="14.7">+ setComponent()</tspan><tspan x="2304" dy="14.7">+ isActive()</tspan><tspan x="2304" dy="14.7">+ isInstallable()</tspan><tspan x="2304" dy="14.7">+ returnKey()</tspan><tspan x="2304" dy="14.7">and 8 more...</tspan></text></g>

<g id="n_ilGlobalCacheService"><rect class="b" x="2635" y="368" width="140" height="292"/><text class="c" x="2705" y="384">ilGlobalCacheService</text><line class="s" x1="2635" y1="389" x2="2775" y2="389"/><line class="s" x1="2635" y1="409" x2="2775" y2="409"/><text class="m" x="2642" y="423"><tspan x="2642">+ __construct()</tspan><tspan x="2642" dy="14.7">+ isInstallable()</tspan><tspan x="2642" dy="14.7">+ get()</tspan><tspan x="2642" dy="14.7">+ set()</tspan><tspan x="2642" dy="14.7">+ isValid()</tspan><tspan x="2642" dy="14.7">+ getServiceId()</tspan><tspan x="2642" dy="14.7">+ setServiceId()</tspan><tspan x="2642" dy="14.7">+ getComponent()</tspan><tspan x="2642" dy="14.7">+ setComponent()</tspan><tspan x="2642" dy="14.7">+ isActive()</tspan><tspan x="2642" dy="14.7">and 11 more...</tspan><tspan x="2642" dy="14.7"># getActive()</tspan><tspan x="2642" dy="14.7"># getInstallable()</tspan><tspan x="2642" dy="14.7"># getMemoryLimit()</tspan><tspan x="2642" dy="14.7"># getMinMemory()</tspan><tspan x="2642" dy="14.7"># checkMemory()</tspan></text></g>

<g id="n_ilGlobalCache"><rect class="b" x="2436" y="917" width="204" height="519"/><text class="c" x="2538" y="933">ilGlobalCache</text><line class="s" x1="2436" y1="938" x2="2640" y2="938"/><text class="m" x="2444" y="952"><tspan x="2444">+ TYPE_MEMCACHED</tspan><tspan x="2444" dy="14.7">+ TYPE_FALLBACK</tspan><tspan x="2444" dy="14.7">+ COMP_CLNG</tspan><tspan x="2444" dy="14.7">+ COMP_RBAC_UA</tspan><tspan x="2444" dy="14.7">+ COMP_EVENTS</tspan><tspan x="2444" dy="14.7">+ COMP_TPL_BLOCKS</tspan></text><line class="s" x1="2436" y1="1033" x2="2640" y2="1033"/><text class="m" x="2444" y="1047"><tspan x="2444">+ isActive()</tspan><tspan x="2444" dy="14.7">+ isValid()</tspan><tspan x="2444" dy="14.7">+ isInstallable()</tspan><tspan x="2444" dy="14.7">+ isCacheServiceInstallable()</tspan><tspan x="2444" dy="14.7">+ getInstallationFailureReason()</tspan><tspan x="2444" dy="14.7">+ exists()</tspan><tspan x="2444" dy="14.7">+ set()</tspan><tspan x="2444" dy="14.7">+ get()</tspan><tspan x="2444" dy="14.7">+ delete()</tspan><tspan x="2444" dy="14.7">+ flush()</tspan><tspan x="2444" dy="14.7">and 7 more...</tspan><tspan x="2444" dy="14.7">+ setup()</tspan><tspan x="2444" dy="14.7">+ getInstance()</tspan><tspan x="2444" dy="14.7">+ log()</tspan><tspan x="2444" dy="14.7">+ getAllInstallableTypes()</tspan><tspan x="2444" dy="14.7">+ getAllTypes()</tspan><tspan x="2444" dy="14.7">+ lookupServiceClassName()</tspan><tspan x="2444" dy="14.7">+ lookupServiceConfigName()</tspan><tspan x="2444" dy="14.7">+ getSettings()</tspan><tspan x="2444" dy="14.7">+ setSettings()</tspan><tspan x="2444" dy="14.7">+ getActiveComponents()</tspan><tspan x="2444" dy="14.7">+ setActiveComponents()</tspan><tspan x="2444" dy="14.7">+ getAvailableComponents()</tspan><tspan x="2444" dy="14.7">+ setAvailableComponents()</tspan><tspan x="2444" dy="14.7"># __construct()</tspan><tspan x="2444" dy="14.7"># checkSettings()</tspan><tspan x="2444" dy="14.7"># generateServiceId()</tspan></text></g>

<g id="n_ilCtrlStructureInterface"><rect class="b" x="2766" y="1069" width="164" height="221"/><text class="c" x="2848" y="1085">ilCtrlStructureInterface</text><line class="s" x1="2766" y1="1090" x2="2930" y2="1090"/><line class="s" x1="2766" y1="1110" x2="2930" y2="1110"/><text class="m" x="2773" y="1124"><tspan x="2773">+ isBaseClass()</tspan><tspan x="2773" dy="14.7">+ getObjNameByCid()</tspan><tspan x="2773" dy="14.7">+ getObjNameByName()</tspan><tspan x="2773" dy="14.7">+ getClassNameByCid()</tspan><tspan x="2773" dy="14.7">+ getClassCidByName()</tspan><tspan x="2773" dy="14.7">+ getRelativePathByName()</tspan><tspan x="2773" dy="14.7">+ getRelativePathByCid()</tspan><tspan x="2773" dy="14.7">+ getChildrenByCid()</tspan><tspan x="2773" dy="14.7">+ getChildrenByName()</tspan><tspan x="2773" dy="14.7">+ getParentsByCid()</tspan><tspan x="2773" dy="14.7">and 14 more...</tspan></text></g>

<g id="n_ilCtrlInterface"><rect class="b" x="1542" y="1054" width="180" height="252"/><text class="c" x="1632" y="1070">ilCtrlInterface</text><line class="s" x1="1542" y1="1075" x2="1722" y2="1075"/><text class="m" x="1549" y="1089"><tspan x="1549">+ PARAM_REDIRECT</tspan><tspan x="1549" dy="14.7">+ PARAM_BASE_CLASS</tspan><tspan x="1549" dy="14.7">+ CMD_MODE_ASYNC</tspan></text><line class="s" x1="1542" y1="1126" x2="1722" y2="1126"/><text class="m" x="1549" y="1140"><tspan x="1549">+ callBaseClass()</tspan><tspan x="1549" dy="14.7">+ forwardCommand()</tspan><tspan x="1549" dy="14.7">+ getHTML()</tspan><tspan x="1549" dy="14.7">+ getCmd()</tspan><tspan x="1549" dy="14.7">+ setCmd()</tspan><tspan x="1549" dy="14.7">+ getCmdClass()</tspan><tspan x="1549" dy="14.7">+ setCmdClass()</tspan><tspan x="1549" dy="14.7">+ getNextClass()</tspan><tspan x="1549" dy="14.7">+ saveParameter()</tspan><tspan x="1549" dy="14.7">+ saveParameterByClass()</tspan><tspan x="1549" dy="14.7">and 19 more...</tspan></text></g>

<g id="n_ilCtrlContextInterface"><rect class="b" x="1" y="1069" width="152" height="221"/><text class="c" x="77" y="1085">ilCtrlContextInterface</text><line class="s" x1="1" y1="1090" x2="153" y2="1090"/><line class="s" x1="1" y1="1110" x2="153" y2="1110"/><text class="m" x="8" y="1124"><tspan x="8">+ isAsync()</tspan><tspan x="8" dy="14.7">+ getRedirectSource()</tspan><tspan x="8" dy="14.7">+ getPath()</tspan><tspan x="8" dy="14.7">+ setCmdMode()</tspan><tspan x="8" dy="14.7">+ getCmdMode()</tspan><tspan x="8" dy="14.7">+ setBaseClass()</tspan><tspan x="8" dy="14.7">+ getBaseClass()</tspan><tspan x="8" dy="14.7">+ setTargetScript()</tspan><tspan x="8" dy="14.7">+ getTargetScript()</tspan><tspan x="8" dy="14.7">+ setCmdClass()</tspan><tspan x="8" dy="14.7">and 7 more...</tspan></text></g>

<g id="n_ilCtrlTokenRepositoryInterface"><rect class="b" x="368" y="1144" width="192" height="76"/><text class="c" x="464" y="1160">ilCtrlTokenRepositoryInterface</text><line class="s" x1="368" y1="1165" x2="560" y2="1165"/><line class="s" x1="368" y1="1185" x2="560" y2="1185"/><text class="m" x="375" y="1199">+ getToken()</text></g>
<g id="n_RequestWrapper"><rect class="b" x="591" y="1135" width="147" height="95"/><text class="c" x="664" y="1151"><tspan x="664">ILIAS\HTTP\Wrapper</tspan><tspan x="664" dy="14.7">\RequestWrapper</tspan></text><line class="s" x1="591" y1="1171" x2="738" y2="1171"/><line class="s" x1="591" y1="1191" x2="738" y2="1191"/><text class="m" x="598" y="1205"><tspan x="598">+ retrieve()</tspan><tspan x="598" dy="14.7">+ has()</tspan></text></g>
<g id="n_ilCtrlQueryParserInterface"><rect class="b" x="768" y="1144" width="162" height="76"/><text class="c" x="849" y="1160">ilCtrlQueryParserInterface</text><line class="s" x1="768" y1="1165" x2="930" y2="1165"/><line class="s" x1="768" y1="1185" x2="930" y2="1185"/><text class="m" x="775" y="1199">+ parseQueriesOfURL()</text></g>
<g id="n_ilCtrlPathFactoryInterface"><rect class="b" x="962" y="1144" width="165" height="86"/><text class="c" x="1044" y="1160">ilCtrlPathFactoryInterface</text><line class="s" x1="962" y1="1165" x2="1127" y2="1165"/><line class="s" x1="962" y1="1171" x2="1127" y2="1171"/><text class="m" x="969" y="1184"><tspan x="969">+ find()</tspan><tspan x="969" dy="14.7">+ existing()</tspan><tspan x="969" dy="14.7">+ null()</tspan></text></g>
<g id="n_ResponseSenderStrategy"><rect class="b" x="1246" y="1135" width="221" height="90"/><text class="c" x="1356" y="1151"><tspan x="1356">ILIAS\HTTP\Response</tspan><tspan x="1356" dy="14.7">\Sender\ResponseSenderStrategy</tspan></text><line class="s" x1="1246" y1="1171" x2="1467" y2="1171"/><line class="s" x1="1246" y1="1191" x2="1467" y2="1191"/><text class="m" x="1253" y="1205">+ sendResponse()</text></g>

<g id="n_ilCtrl"><rect class="b" x="1178" y="1766" width="187" height="351"/><text class="c" x="1271" y="1782">ilCtrl</text><line class="s" x1="1178" y1="1787" x2="1365" y2="1787"/><line class="s" x1="1178" y1="1807" x2="1365" y2="1807"/><text class="m" x="1185" y="1821"><tspan x="1185">+ __construct()</tspan><tspan x="1185" dy="14.7">+ __clone()</tspan><tspan x="1185" dy="14.7">+ callBaseClass()</tspan><tspan x="1185" dy="14.7">+ forwardCommand()</tspan><tspan x="1185" dy="14.7">+ getHTML()</tspan><tspan x="1185" dy="14.7">+ getCmd()</tspan><tspan x="1185" dy="14.7">+ setCmd()</tspan><tspan x="1185" dy="14.7">+ getCmdClass()</tspan><tspan x="1185" dy="14.7">+ setCmdClass()</tspan><tspan x="1185" dy="14.7">+ getNextClass()</tspan><tspan x="1185" dy="14.7">and 34 more...</tspan><tspan x="1185" dy="14.7">- getQueryParam()</tspan><tspan x="1185" dy="14.7">- getTableCommand()</tspan><tspan x="1185" dy="14.7">- getPostCommand()</tspan><tspan x="1185" dy="14.7">- getTargetUrl()</tspan><tspan x="1185" dy="14.7">- isCmdSecure()</tspan><tspan x="1185" dy="14.7">- appendParameterStringsBy</tspan><tspan x="1185" dy="14.7">Class()</tspan><tspan x="1185" dy="14.7">- populateCall()</tspan><tspan x="1185" dy="14.7">- getClassByObject()</tspan></text></g>

<g id="n_ilCachedLanguage"><rect class="b" x="2688" y="1807" width="189" height="266"/><text class="c" x="2782" y="1823">ilCachedLanguage</text><line class="s" x1="2688" y1="1828" x2="2877" y2="1828"/><line class="s" x1="2688" y1="1848" x2="2877" y2="1848"/><text class="m" x="2695" y="1862"><tspan x="2695">+ isActive()</tspan><tspan x="2695" dy="14.7">+ writeToCache()</tspan><tspan x="2695" dy="14.7">+ deleteInCache()</tspan><tspan x="2695" dy="14.7">+ flush()</tspan><tspan x="2695" dy="14.7">+ getLanguageKey()</tspan><tspan x="2695" dy="14.7">+ setLanguageKey()</tspan><tspan x="2695" dy="14.7">+ isLoaded()</tspan><tspan x="2695" dy="14.7">+ setLoaded()</tspan><tspan x="2695" dy="14.7">+ setTranslations()</tspan><tspan x="2695" dy="14.7">+ getTranslations()</tspan><tspan x="2695" dy="14.7">+ getInstance()</tspan><tspan x="2695" dy="14.7"># __construct()</tspan><tspan x="2695" dy="14.7"># readFromCache()</tspan><tspan x="2695" dy="14.7"># readFromDB()</tspan></text></g>

<g id="n_ilLanguage"><rect class="b" x="3498" y="2384" width="177" height="329"/><text class="c" x="3586" y="2400">ilLanguage</text><line class="s" x1="3498" y1="2405" x2="3675" y2="2405"/><line class="s" x1="3498" y1="2425" x2="3675" y2="2425"/><text class="m" x="3505" y="2439"><tspan x="3505">+ __construct()</tspan><tspan x="3505" dy="14.7">+ getLangKey()</tspan><tspan x="3505" dy="14.7">+ getDefaultLanguage()</tspan><tspan x="3505" dy="14.7">+ getTextDirection()</tspan><tspan x="3505" dy="14.7">+ getContentLanguage()</tspan><tspan x="3505" dy="14.7">+ txtlng()</tspan><tspan x="3505" dy="14.7">+ txt()</tspan><tspan x="3505" dy="14.7">+ exists()</tspan><tspan x="3505" dy="14.7">+ loadLanguageModule()</tspan><tspan x="3505" dy="14.7">+ getInstalledLanguages()</tspan><tspan x="3505" dy="14.7">and 27 more...</tspan><tspan x="3505" dy="14.7">+ _lookupEntry()</tspan><tspan x="3505" dy="14.7">+ lookupId()</tspan><tspan x="3505" dy="14.7">+ getUsedTopics()</tspan><tspan x="3505" dy="14.7">+ getUsedModules()</tspan><tspan x="3505" dy="14.7">+ getFallbackInstance()</tspan><tspan x="3505" dy="14.7">and 2 more...</tspan><tspan x="3505" dy="14.7"># getCustomLangPath()</tspan></text></g>

<g id="n_ilGlobalTemplateInterface"><rect class="b" x="3830" y="1475" width="195" height="225"/><text class="c" x="3927" y="1491">ilGlobalTemplateInterface</text><line class="s" x1="3830" y1="1496" x2="4025" y2="1496"/><line class="s" x1="3830" y1="1516" x2="4025" y2="1516"/><text class="m" x="3837" y="1530"><tspan x="3837">+ hideFooter()</tspan><tspan x="3837" dy="14.7">+ setOnScreenMessage()</tspan><tspan x="3837" dy="14.7">+ addJavaScript()</tspan><tspan x="3837" dy="14.7">+ addCss()</tspan><tspan x="3837" dy="14.7">+ addInlineCss()</tspan><tspan x="3837" dy="14.7">+ addOnLoadCode()</tspan><tspan x="3837" dy="14.7">+ getOnLoadCodeForAsyncCallback()</tspan><tspan x="3837" dy="14.7">+ resetJavascript()</tspan><tspan x="3837" dy="14.7">+ fillJavaScriptFiles()</tspan><tspan x="3837" dy="14.7">+ addContent()</tspan><tspan x="3837" dy="14.7">and 35 more...</tspan></text></g>

<g id="n_PEAR"><rect class="b" x="4575" y="323" width="182" height="387"/><text class="c" x="4666" y="339">PEAR</text><line class="s" x1="4575" y1="344" x2="4757" y2="344"/><text class="m" x="4582" y="358"><tspan x="4582">+ $_debug</tspan><tspan x="4582" dy="14.7">+ $_default_error_mode</tspan><tspan x="4582" dy="14.7">+ $_default_error_options</tspan><tspan x="4582" dy="14.7">+ $_default_error_handler</tspan><tspan x="4582" dy="14.7">+ $_error_class</tspan><tspan x="4582" dy="14.7">+ $_expected_errors</tspan></text><line class="s" x1="4575" y1="438" x2="4757" y2="438"/><text class="m" x="4582" y="452"><tspan x="4582">+ __construct()</tspan><tspan x="4582" dy="14.7">+ PEAR()</tspan><tspan x="4582" dy="14.7">+ registerShutdownFunc()</tspan><tspan x="4582" dy="14.7">+ isError()</tspan><tspan x="4582" dy="14.7">+ expectError()</tspan><tspan x="4582" dy="14.7">+ popExpect()</tspan><tspan x="4582" dy="14.7">+ _checkDelExpect()</tspan><tspan x="4582" dy="14.7">+ delExpect()</tspan><tspan x="4582" dy="14.7">+ raiseError()</tspan><tspan x="4582" dy="14.7">+ throwError()</tspan><tspan x="4582" dy="14.7">+ staticPushErrorHandling()</tspan><tspan x="4582" dy="14.7">+ staticPopErrorHandling()</tspan><tspan x="4582" dy="14.7">+ pushErrorHandling()</tspan><tspan x="4582" dy="14.7">+ popErrorHandling()</tspan><tspan x="4582" dy="14.7">+ loadExtension()</tspan><tspan x="4582" dy="14.7">+ getStaticProperty()</tspan><tspan x="4582" dy="14.7">+ setErrorHandling()</tspan></text></g>

<g id="n_AdministrationSetting"><rect class="b" x="5229" y="420" width="164" height="190"/><text class="c" x="5311" y="436"><tspan x="5311">ILIAS\Administration</tspan><tspan x="5311" dy="14.7">\Setting</tspan></text><line class="s" x1="5229" y1="456" x2="5393" y2="456"/><line class="s" x1="5229" y1="476" x2="5393" y2="476"/><text class="m" x="5236" y="490"><tspan x="5236">+ getModule()</tspan><tspan x="5236" dy="14.7">+ read()</tspan><tspan x="5236" dy="14.7">+ get()</tspan><tspan x="5236" dy="14.7">+ deleteAll()</tspan><tspan x="5236" dy="14.7">+ delete()</tspan><tspan x="5236" dy="14.7">+ getAll()</tspan><tspan x="5236" dy="14.7">+ set()</tspan><tspan x="5236" dy="14.7">+ _lookupValue()</tspan></text></g>

<g id="n_ilDBInterface"><rect class="b" x="6497" y="391" width="233" height="246"/><text class="c" x="6613" y="407">ilDBInterface</text><line class="s" x1="6497" y1="412" x2="6730" y2="412"/><line class="s" x1="6497" y1="432" x2="6730" y2="432"/><text class="m" x="6504" y="446"><tspan x="6504">+ doesCollationSupportMB4Strings()</tspan><tspan x="6504" dy="14.7">+ sanitizeMB4StringIfNotSupported()</tspan><tspan x="6504" dy="14.7">+ initFromIniFile()</tspan><tspan x="6504" dy="14.7">+ connect()</tspan><tspan x="6504" dy="14.7">+ insert()</tspan><tspan x="6504" dy="14.7">+ createTable()</tspan><tspan x="6504" dy="14.7">+ addPrimaryKey()</tspan><tspan x="6504" dy="14.7">+ createSequence()</tspan><tspan x="6504" dy="14.7">+ getSequenceName()</tspan><tspan x="6504" dy="14.7">+ tableExists()</tspan><tspan x="6504" dy="14.7">and 174 more...</tspan><tspan x="6504" dy="14.7">+ getReservedWords()</tspan><tspan x="6504" dy="14.7">+ isReservedWord()</tspan></text></g>

<g id="n_ilErrorHandling"><rect class="b" x="4771" y="1035" width="205" height="291"/><text class="c" x="4873" y="1051">ilErrorHandling</text><line class="s" x1="4771" y1="1056" x2="4976" y2="1056"/><text class="m" x="4778" y="1070"># $error_obj</text><line class="s" x1="4771" y1="1077" x2="4976" y2="1077"/><text class="m" x="4778" y="1091"><tspan x="4778">+ __construct()</tspan><tspan x="4778" dy="14.7">+ getHandler()</tspan><tspan x="4778" dy="14.7">+ errorHandler()</tspan><tspan x="4778" dy="14.7">+ getMessage()</tspan><tspan x="4778" dy="14.7">+ setMessage()</tspan><tspan x="4778" dy="14.7">+ appendMessage()</tspan><tspan x="4778" dy="14.7">+ handlePreXMLError()</tspan><tspan x="4778" dy="14.7"># isDevMode()</tspan><tspan x="4778" dy="14.7"># defaultHandler()</tspan><tspan x="4778" dy="14.7"># devmodeHandler()</tspan><tspan x="4778" dy="14.7"># loggingHandler()</tspan><tspan x="4778" dy="14.7"># addEditorSupport()</tspan><tspan x="4778" dy="14.7"># parseErrorWithTranslations()</tspan><tspan x="4778" dy="14.7"># parseErrorWithTranslation()</tspan></text></g>

<g id="n_ilSetting"><rect class="b" x="5100" y="1035" width="153" height="280"/><text class="c" x="5176" y="1051">ilSetting</text><line class="s" x1="5100" y1="1056" x2="5253" y2="1056"/><line class="s" x1="5100" y1="1062" x2="5253" y2="1062"/><text class="m" x="5107" y="1076"><tspan x="5107">+ __construct()</tspan><tspan x="5107" dy="14.7">+ getModule()</tspan><tspan x="5107" dy="14.7">+ read()</tspan><tspan x="5107" dy="14.7">+ get()</tspan><tspan x="5107" dy="14.7">+ deleteAll()</tspan><tspan x="5107" dy="14.7">+ deleteLike()</tspan><tspan x="5107" dy="14.7">+ delete()</tspan><tspan x="5107" dy="14.7">+ getAll()</tspan><tspan x="5107" dy="14.7">+ set()</tspan><tspan x="5107" dy="14.7">+ setScormDebug()</tspan><tspan x="5107" dy="14.7">+ _lookupValue()</tspan><tspan x="5107" dy="14.7">+ _getValueType()</tspan><tspan x="5107" dy="14.7">+ _changeValueType()</tspan><tspan x="5107" dy="14.7">- changeValueType()</tspan><tspan x="5107" dy="14.7">- getLongerSettings()</tspan><tspan x="5107" dy="14.7">- _getLongerSettings()</tspan></text></g>

<g id="n_ilComponentRepository"><rect class="b" x="5384" y="1055" width="224" height="250"/><text class="c" x="5496" y="1071">ilComponentRepository</text><line class="s" x1="5384" y1="1076" x2="5608" y2="1076"/><line class="s" x1="5384" y1="1096" x2="5608" y2="1096"/><text class="m" x="5391" y="1110"><tspan x="5391">+ hasComponent()</tspan><tspan x="5391" dy="14.7">+ hasComponentId()</tspan><tspan x="5391" dy="14.7">+ getComponents()</tspan><tspan x="5391" dy="14.7">+ getComponentById()</tspan><tspan x="5391" dy="14.7">+ getComponentByTypeAndName()</tspan><tspan x="5391" dy="14.7">+ hasPluginSlotId()</tspan><tspan x="5391" dy="14.7">+ getPluginSlots()</tspan><tspan x="5391" dy="14.7">+ getPluginSlotById()</tspan><tspan x="5391" dy="14.7">+ hasPluginId()</tspan><tspan x="5391" dy="14.7">+ getPlugins()</tspan><tspan x="5391" dy="14.7">+ getPluginById()</tspan><tspan x="5391" dy="14.7">+ getPluginByName()</tspan><tspan x="5391" dy="14.7">+ hasActivatedPlugin()</tspan></text></g>

<g id="n_ilComponentFactory"><rect class="b" x="4249" y="1137" width="213" height="88"/><text class="c" x="4355" y="1153">ilComponentFactory</text><line class="s" x1="4249" y1="1158" x2="4462" y2="1158"/><line class="s" x1="4249" y1="1178" x2="4462" y2="1178"/><text class="m" x="4256" y="1192"><tspan x="4256">+ getPlugin()</tspan><tspan x="4256" dy="14.7">+ getActivePluginsInSlot()</tspan></text></g>

<g id="n_ilLogger"><rect class="b" x="6359" y="1069" width="110" height="221"/><text class="c" x="6414" y="1085">ilLogger</text><line class="s" x1="6359" y1="1090" x2="6469" y2="1090"/><line class="s" x1="6359" y1="1110" x2="6469" y2="1110"/><text class="m" x="6366" y="1124"><tspan x="6366">+ __construct()</tspan><tspan x="6366" dy="14.7">+ isHandling()</tspan><tspan x="6366" dy="14.7">+ log()</tspan><tspan x="6366" dy="14.7">+ dump()</tspan><tspan x="6366" dy="14.7">+ debug()</tspan><tspan x="6366" dy="14.7">+ info()</tspan><tspan x="6366" dy="14.7">+ notice()</tspan><tspan x="6366" dy="14.7">+ warning()</tspan><tspan x="6366" dy="14.7">+ error()</tspan><tspan x="6366" dy="14.7">+ critical()</tspan><tspan x="6366" dy="14.7">and 3 more...</tspan></text></g>

<g id="n_ILIAS"><rect class="b" x="4592" y="1824" width="133" height="256"/><text class="c" x="4658" y="1840">ILIAS</text><line class="s" x1="4592" y1="1845" x2="4725" y2="1845"/><text class="m" x="4599" y="1859"><tspan x="4599">+ $account</tspan><tspan x="4599" dy="14.7">+ $ini</tspan><tspan x="4599" dy="14.7">+ $ini_ilias</tspan><tspan x="4599" dy="14.7">+ $error_obj</tspan></text><line class="s" x1="4592" y1="1910" x2="4725" y2="1910"/><text class="m" x="4599" y="1924"><tspan x="4599">+ __construct()</tspan><tspan x="4599" dy="14.7">+ getSetting()</tspan><tspan x="4599" dy="14.7">+ deleteSetting()</tspan><tspan x="4599" dy="14.7">+ getAllSettings()</tspan><tspan x="4599" dy="14.7">+ setSetting()</tspan><tspan x="4599" dy="14.7">+ raiseError()</tspan><tspan x="4599" dy="14.7">+ getClientId()</tspan><tspan x="4599" dy="14.7">+ getSettingObject()</tspan><tspan x="4599" dy="14.7">+ getSettingsObj()</tspan><tspan x="4599" dy="14.7">+ getSettingOnce()</tspan></text></g>

<g id="n_ilObjectDefinition"><rect class="b" x="5233" y="1757" width="216" height="368"/><text class="c" x="5341" y="1773">ilObjectDefinition</text><line class="s" x1="5233" y1="1778" x2="5449" y2="1778"/><line class="s" x1="5233" y1="1798" x2="5449" y2="1798"/><text class="m" x="5240" y="1812"><tspan x="5240">+ __construct()</tspan><tspan x="5240" dy="14.7">+ readDefinitionData()</tspan><tspan x="5240" dy="14.7">+ getClassName()</tspan><tspan x="5240" dy="14.7">+ getLocation()</tspan><tspan x="5240" dy="14.7">+ getGroup()</tspan><tspan x="5240" dy="14.7">+ getGroupOfObj()</tspan><tspan x="5240" dy="14.7">+ hasCheckbox()</tspan><tspan x="5240" dy="14.7">+ getTranslationType()</tspan><tspan x="5240" dy="14.7">+ allowAdministration()</tspan><tspan x="5240" dy="14.7">+ getDevMode()</tspan><tspan x="5240" dy="14.7">and 62 more...</tspan><tspan x="5240" dy="14.7">+ getRepositoryObjectTypes</tspan><tspan x="5240" dy="14.7">ForComponent()</tspan><tspan x="5240" dy="14.7">+ getComponentForType()</tspan><tspan x="5240" dy="14.7">+ getGroupedRepositoryObject</tspan><tspan x="5240" dy="14.7">Types()</tspan><tspan x="5240" dy="14.7"># readDefinitionDataFromCache()</tspan><tspan x="5240" dy="14.7"># readDefinitionDataFromDB()</tspan><tspan x="5240" dy="14.7"># readPluginData()</tspan><tspan x="5240" dy="14.7"># parsePluginData()</tspan><tspan x="5240" dy="14.7">- getGroupedPluginObjectTypes()</tspan></text></g>

<g id="n_ilTreeImplementation"><rect class="b" x="5705" y="1832" width="185" height="218"/><text class="c" x="5797" y="1848">ilTreeImplementation</text><line class="s" x1="5705" y1="1853" x2="5890" y2="1853"/><line class="s" x1="5705" y1="1873" x2="5890" y2="1873"/><text class="m" x="5712" y="1887"><tspan x="5712">+ getSubTreeIds()</tspan><tspan x="5712" dy="14.7">+ getSubTreeQuery()</tspan><tspan x="5712" dy="14.7">+ getTrashSubTreeQuery()</tspan><tspan x="5712" dy="14.7">+ getRelation()</tspan><tspan x="5712" dy="14.7">+ getPathIds()</tspan><tspan x="5712" dy="14.7">+ insertNode()</tspan><tspan x="5712" dy="14.7">+ deleteTree()</tspan><tspan x="5712" dy="14.7">+ moveToTrash()</tspan><tspan x="5712" dy="14.7">+ moveTree()</tspan><tspan x="5712" dy="14.7">+ getSubtreeInfo()</tspan><tspan x="5712" dy="14.7">+ validateParentRelations()</tspan></text></g>

<g id="n_ilAppEventHandler"><rect class="b" x="6165" y="1890" width="131" height="110"/><text class="c" x="6230" y="1906">ilAppEventHandler</text><line class="s" x1="6165" y1="1911" x2="6296" y2="1911"/><line class="s" x1="6165" y1="1931" x2="6296" y2="1931"/><text class="m" x="6172" y="1945"><tspan x="6172">+ __construct()</tspan><tspan x="6172" dy="14.7">+ raise()</tspan><tspan x="6172" dy="14.7"># initListeners()</tspan></text></g>

<g id="n_ilRbacReview"><rect class="b" x="6322" y="1721" width="218" height="443"/><text class="c" x="6431" y="1737">ilRbacReview</text><line class="s" x1="6322" y1="1742" x2="6540" y2="1742"/><line class="s" x1="6322" y1="1762" x2="6540" y2="1762"/><text class="m" x="6329" y="1776"><tspan x="6329">+ __construct()</tspan><tspan x="6329" dy="14.7">+ roleExists()</tspan><tspan x="6329" dy="14.7">+ getParentRoleIds()</tspan><tspan x="6329" dy="14.7">+ getRoleListByObject()</tspan><tspan x="6329" dy="14.7">+ getAssignableRoles()</tspan><tspan x="6329" dy="14.7">+ getAssignableRolesInSubtree()</tspan><tspan x="6329" dy="14.7">+ getAssignableChildRoles()</tspan><tspan x="6329" dy="14.7">+ getNumberOfAssignedUsers()</tspan><tspan x="6329" dy="14.7">+ assignedUsers()</tspan><tspan x="6329" dy="14.7">+ isAssigned()</tspan><tspan x="6329" dy="14.7">and 47 more...</tspan><tspan x="6329" dy="14.7">+ _getOperationIdsByName()</tspan><tspan x="6329" dy="14.7">+ _getOperationIdByName()</tspan><tspan x="6329" dy="14.7">+ lookupCreateOperationIds()</tspan><tspan x="6329" dy="14.7">+ _getCustomRBACOperationId()</tspan><tspan x="6329" dy="14.7">+ _groupOperationsByClass()</tspan><tspan x="6329" dy="14.7">+ _isRBACOperation()</tspan><tspan x="6329" dy="14.7"># __setParentFilter()</tspan><tspan x="6329" dy="14.7"># __setTemplateFilter()</tspan><tspan x="6329" dy="14.7"># __setRoleType()</tspan><tspan x="6329" dy="14.7"># __setProtectedStatus()</tspan><tspan x="6329" dy="14.7">- setAssignedCacheEntry()</tspan><tspan x="6329" dy="14.7">- getAssignableRolesByRole</tspan><tspan x="6329" dy="14.7">Templates()</tspan><tspan x="6329" dy="14.7">- buildRoleType()</tspan><tspan x="6329" dy="14.7">- buildProtectionByRole()</tspan></text></g>

<g id="n_ilTree"><rect class="b" x="5638" y="2396" width="197" height="307"/><text class="c" x="5736" y="2412">ilTree</text><line class="s" x1="5638" y1="2417" x2="5835" y2="2417"/><text class="m" x="5645" y="2431">+ DEFAULT_GAP</text><line class="s" x1="5638" y1="2438" x2="5835" y2="2438"/><text class="m" x="5645" y="2452"><tspan x="5645">+ __construct()</tspan><tspan x="5645" dy="14.7">+ initTreeImplementation()</tspan><tspan x="5645" dy="14.7">+ getTreeImplementation()</tspan><tspan x="5645" dy="14.7">+ useCache()</tspan><tspan x="5645" dy="14.7">+ isCacheUsed()</tspan><tspan x="5645" dy="14.7">+ getDepthCache()</tspan><tspan x="5645" dy="14.7">+ getParentCache()</tspan><tspan x="5645" dy="14.7">+ initLangCode()</tspan><tspan x="5645" dy="14.7">+ getTreeTable()</tspan><tspan x="5645" dy="14.7">+ getTableReference()</tspan><tspan x="5645" dy="14.7">and 84 more...</tspan><tspan x="5645" dy="14.7">+ lookupTreesForNode()</tspan><tspan x="5645" dy="14.7">+ _removeEntry()</tspan><tspan x="5645" dy="14.7">+ lookupParentId()</tspan><tspan x="5645" dy="14.7"># fetchPredecessorNode()</tspan><tspan x="5645" dy="14.7"># fetchTranslationFromObject</tspan><tspan x="5645" dy="14.7">DataCache()</tspan></text></g>

<g id="n_ilRbacAdmin"><rect class="b" x="6492" y="2426" width="189" height="249"/><text class="c" x="6586" y="2442">ilRbacAdmin</text><line class="s" x1="6492" y1="2447" x2="6681" y2="2447"/><line class="s" x1="6492" y1="2467" x2="6681" y2="2467"/><text class="m" x="6499" y="2481"><tspan x="6499">+ __construct()</tspan><tspan x="6499" dy="14.7">+ setBlockedStatus()</tspan><tspan x="6499" dy="14.7">+ removeUser()</tspan><tspan x="6499" dy="14.7">+ deleteRole()</tspan><tspan x="6499" dy="14.7">+ deleteTemplate()</tspan><tspan x="6499" dy="14.7">+ deleteLocalRole()</tspan><tspan x="6499" dy="14.7">+ assignUser()</tspan><tspan x="6499" dy="14.7">+ deassignUser()</tspan><tspan x="6499" dy="14.7">+ grantPermission()</tspan><tspan x="6499" dy="14.7">+ revokePermission()</tspan><tspan x="6499" dy="14.7">and 20 more...</tspan><tspan x="6499" dy="14.7"># applyMovedObjectDiff()</tspan></text></g>

<g id="n_ilTableGUI"><rect class="b" x="2453" y="2915" width="164" height="349"/><text class="c" x="2535" y="2931">ilTableGUI</text><line class="s" x1="2453" y1="2936" x2="2617" y2="2936"/><text class="m" x="2460" y="2950"><tspan x="2460">+ $title</tspan><tspan x="2460" dy="14.7">+ $order_column</tspan><tspan x="2460" dy="14.7">+ $order_direction</tspan><tspan x="2460" dy="14.7">+ $footer_style</tspan><tspan x="2460" dy="14.7">+ $link_params</tspan><tspan x="2460" dy="14.7">+ $lang_support</tspan><tspan x="2460" dy="14.7">+ $sort</tspan></text><line class="s" x1="2453" y1="3053" x2="2617" y2="3053"/><text class="m" x="2460" y="3067"><tspan x="2460">+ __construct()</tspan><tspan x="2460" dy="14.7">+ setTemplate()</tspan><tspan x="2460" dy="14.7">+ getTemplateObject()</tspan><tspan x="2460" dy="14.7">+ setData()</tspan><tspan x="2460" dy="14.7">+ getData()</tspan><tspan x="2460" dy="14.7">+ setTitle()</tspan><tspan x="2460" dy="14.7">+ setHelp()</tspan><tspan x="2460" dy="14.7">+ setHeaderNames()</tspan><tspan x="2460" dy="14.7">+ getColumnCount()</tspan><tspan x="2460" dy="14.7">+ setHeaderVars()</tspan><tspan x="2460" dy="14.7">and 41 more...</tspan><tspan x="2460" dy="14.7"># renderFooter()</tspan></text></g>

<g id="n_ilTable2GUI"><rect class="b" x="2443" y="3510" width="193" height="650"/><text class="c" x="2540" y="3526">ilTable2GUI</text><line class="s" x1="2443" y1="3531" x2="2636" y2="3531"/><text class="m" x="2450" y="3545"><tspan x="2450">+ FILTER_NUMBER_RANGE</tspan><tspan x="2450" dy="14.7">+ EXPORT_EXCEL</tspan><tspan x="2450" dy="14.7"># $requested_nav_value</tspan><tspan x="2450" dy="14.7"># $requested_tmpl_delete</tspan><tspan x="2450" dy="14.7"># $parent_obj</tspan><tspan x="2450" dy="14.7"># $parent_cmd</tspan><tspan x="2450" dy="14.7"># $close_command</tspan><tspan x="2450" dy="14.7"># $top_anchor</tspan><tspan x="2450" dy="14.7"># $formname</tspan><tspan x="2450" dy="14.7"># $prefix</tspan><tspan x="2450" dy="14.7"># $custom_prev</tspan><tspan x="2450" dy="14.7"># $export_mode</tspan><tspan x="2450" dy="14.7"># $filter_cols</tspan><tspan x="2450" dy="14.7"># $row_template</tspan></text><line class="s" x1="2443" y1="3750" x2="2636" y2="3750"/><text class="m" x="2450" y="3764"><tspan x="2450">+ __construct()</tspan><tspan x="2450" dy="14.7">+ setOpenFormTag()</tspan><tspan x="2450" dy="14.7">+ setCloseFormTag()</tspan><tspan x="2450" dy="14.7">+ determineLimit()</tspan><tspan x="2450" dy="14.7">+ getSelectableColumns()</tspan><tspan x="2450" dy="14.7">+ determineSelectedColumns()</tspan><tspan x="2450" dy="14.7">+ isColumnSelected()</tspan><tspan x="2450" dy="14.7">+ getSelectedColumns()</tspan><tspan x="2450" dy="14.7">+ executeCommand()</tspan><tspan x="2450" dy="14.7">+ resetOffset()</tspan><tspan x="2450" dy="14.7">and 137 more...</tspan><tspan x="2450" dy="14.7">+ getAllCommandLimit()</tspan><tspan x="2450" dy="14.7"># fillRow()</tspan><tspan x="2450" dy="14.7"># fillHeader()</tspan><tspan x="2450" dy="14.7"># fillFooter()</tspan><tspan x="2450" dy="14.7"># fillHeaderExcel()</tspan><tspan x="2450" dy="14.7"># fillRowExcel()</tspan><tspan x="2450" dy="14.7"># fillHeaderCSV()</tspan><tspan x="2450" dy="14.7"># fillRowCSV()</tspan><tspan x="2450" dy="14.7"># fillMetaCSV()</tspan><tspan x="2450" dy="14.7"># fillMetaExcel()</tspan><tspan x="2450" dy="14.7"># exportData()</tspan><tspan x="2450" dy="14.7"># render()</tspan><tspan x="2450" dy="14.7"># getItems()</tspan><tspan x="2450" dy="14.7">- sortData()</tspan></text></g>

<g id="n_ilObject"><rect class="b" x="5156" y="2779" width="217" height="618"/><text class="c" x="5264" y="2795">ilObject</text><line class="s" x1="5156" y1="2800" x2="5373" y2="2800"/><line class="s" x1="5156" y1="2827" x2="5373" y2="2827"/><text class="m" x="5163" y="2841"><tspan x="5163">+ __construct()</tspan><tspan x="5163" dy="14.7">+ withReferences()</tspan><tspan x="5163" dy="14.7">+ processAutoRating()</tspan><tspan x="5163" dy="14.7">+ read()</tspan><tspan x="5163" dy="14.7">+ getId()</tspan><tspan x="5163" dy="14.7">+ setId()</tspan><tspan x="5163" dy="14.7">+ setRefId()</tspan><tspan x="5163" dy="14.7">+ getRefId()</tspan><tspan x="5163" dy="14.7">+ getType()</tspan><tspan x="5163" dy="14.7">+ setType()</tspan><tspan x="5163" dy="14.7">and 39 more...</tspan><tspan x="5163" dy="14.7">+ _lookupObjIdByImportId()</tspan><tspan x="5163" dy="14.7">+ _lookupImportId()</tspan><tspan x="5163" dy="14.7">+ _lookupOwnerName()</tspan><tspan x="5163" dy="14.7">+ _getIdForImportId()</tspan><tspan x="5163" dy="14.7">+ _getAllReferences()</tspan><tspan x="5163" dy="14.7">+ _lookupTitle()</tspan><tspan x="5163" dy="14.7">+ lookupOfflineStatus()</tspan><tspan x="5163" dy="14.7">+ _lookupOwner()</tspan><tspan x="5163" dy="14.7">+ _getIdsForTitle()</tspan><tspan x="5163" dy="14.7">+ _lookupDescription()</tspan><tspan x="5163" dy="14.7">and 26 more...</tspan><tspan x="5163" dy="14.7"># doMDUpdateListener()</tspan><tspan x="5163" dy="14.7"># beforeMDUpdateListener()</tspan><tspan x="5163" dy="14.7"># doCreateMetaData()</tspan><tspan x="5163" dy="14.7"># beforeCreateMetaData()</tspan><tspan x="5163" dy="14.7"># doUpdateMetaData()</tspan><tspan x="5163" dy="14.7"># beforeUpdateMetaData()</tspan><tspan x="5163" dy="14.7"># doDeleteMetaData()</tspan><tspan x="5163" dy="14.7"># beforeDeleteMetaData()</tspan><tspan x="5163" dy="14.7"># handleAutoRating()</tspan><tspan x="5163" dy="14.7"># hasAutoRating()</tspan><tspan x="5163" dy="14.7">- appendCopyInfoToTranslations()</tspan><tspan x="5163" dy="14.7">- getCallbackForTitlesPerLanguage</tspan><tspan x="5163" dy="14.7">Transformation()</tspan><tspan x="5163" dy="14.7">- appendNumberOfCopiesToTitle()</tspan><tspan x="5163" dy="14.7">- isTitleUnique()</tspan><tspan x="5163" dy="14.7">- buildTitleWithoutCopySuffix()</tspan></text></g>

<g id="n_ilObjUser"><rect class="b" x="5156" y="3461" width="212" height="751"/><text class="c" x="5262" y="3477">ilObjUser</text><line class="s" x1="5156" y1="3482" x2="5368" y2="3482"/><text class="m" x="5163" y="3496"><tspan x="5163">+ $login</tspan><tspan x="5163" dy="14.7">+ $gender</tspan><tspan x="5163" dy="14.7">+ $utitle</tspan><tspan x="5163" dy="14.7">+ $firstname</tspan><tspan x="5163" dy="14.7">+ $lastname</tspan><tspan x="5163" dy="14.7">+ $fullname</tspan><tspan x="5163" dy="14.7">+ $department</tspan><tspan x="5163" dy="14.7">+ $street</tspan><tspan x="5163" dy="14.7">+ $city</tspan><tspan x="5163" dy="14.7">+ $country</tspan><tspan x="5163" dy="14.7">and 12 more...</tspan><tspan x="5163" dy="14.7"># $time_limit_message</tspan><tspan x="5163" dy="14.7"># $last_login</tspan><tspan x="5163" dy="14.7"># $passwd</tspan><tspan x="5163" dy="14.7"># $password_encoding_type</tspan><tspan x="5163" dy="14.7"># $password_salt</tspan><tspan x="5163" dy="14.7"># $birthday</tspan><tspan x="5163" dy="14.7"># $second_email</tspan><tspan x="5163" dy="14.7"># $inactivation_date</tspan><tspan x="5163" dy="14.7"># $org_units</tspan><tspan x="5163" dy="14.7"># $last_profile_prompt</tspan></text><line class="s" x1="5156" y1="3804" x2="5368" y2="3804"/><text class="m" x="5163" y="3818"><tspan x="5163">+ __construct()</tspan><tspan x="5163" dy="14.7">+ read()</tspan><tspan x="5163" dy="14.7">+ getPasswordEncodingType()</tspan><tspan x="5163" dy="14.7">+ setPasswordEncodingType()</tspan><tspan x="5163" dy="14.7">+ getPasswordSalt()</tspan><tspan x="5163" dy="14.7">+ setPasswordSalt()</tspan><tspan x="5163" dy="14.7">+ assignData()</tspan><tspan x="5163" dy="14.7">+ saveAsNew()</tspan><tspan x="5163" dy="14.7">+ update()</tspan><tspan x="5163" dy="14.7">+ writeAccepted()</tspan><tspan x="5163" dy="14.7">and 168 more...</tspan><tspan x="5163" dy="14.7">+ _lookupFullname()</tspan><tspan x="5163" dy="14.7">+ _lookupEmail()</tspan><tspan x="5163" dy="14.7">+ _lookupGender()</tspan><tspan x="5163" dy="14.7">+ _lookupClientIP()</tspan><tspan x="5163" dy="14.7">+ _lookupName()</tspan><tspan x="5163" dy="14.7">+ _lookupFields()</tspan><tspan x="5163" dy="14.7">+ _lookupLogin()</tspan><tspan x="5163" dy="14.7">+ _lookupExternalAccount()</tspan><tspan x="5163" dy="14.7">+ _lookupId()</tspan><tspan x="5163" dy="14.7">+ _lookupLastLogin()</tspan><tspan x="5163" dy="14.7">and 63 more...</tspan><tspan x="5163" dy="14.7"># buildTextFromArray()</tspan><tspan x="5163" dy="14.7"># readMultiTextFields()</tspan><tspan x="5163" dy="14.7"># deleteMultiTextFields()</tspan><tspan x="5163" dy="14.7">- _lookup()</tspan><tspan x="5163" dy="14.7">- getLoginFromAuth()</tspan></text></g>

<g id="n_ilExAssignmentTypeInterface"><rect class="b" x="4916" y="3742" width="227" height="191"/><text class="c" x="5029" y="3758">ilExAssignmentTypeInterface</text><line class="s" x1="4916" y1="3763" x2="5143" y2="3763"/><line class="s" x1="4916" y1="3783" x2="5143" y2="3783"/><text class="m" x="4923" y="3797"><tspan x="4923">+ isActive()</tspan><tspan x="4923" dy="14.7">+ usesTeams()</tspan><tspan x="4923" dy="14.7">+ usesFileUpload()</tspan><tspan x="4923" dy="14.7">+ getTitle()</tspan><tspan x="4923" dy="14.7">+ getSubmissionType()</tspan><tspan x="4923" dy="14.7">+ isSubmissionAssignedToTeam()</tspan><tspan x="4923" dy="14.7">+ cloneSpecificProperties()</tspan><tspan x="4923" dy="14.7">+ supportsWebDirAccess()</tspan><tspan x="4923" dy="14.7">+ getStringIdentifier()</tspan></text></g>

<g id="n_ilOrgUnitPositionAccessHandler"><rect class="b" x="5844" y="2962" width="243" height="252"/><text class="c" x="5965" y="2978">ilOrgUnitPositionAccessHandler</text><line class="s" x1="5844" y1="2983" x2="6087" y2="2983"/><line class="s" x1="5844" y1="3003" x2="6087" y2="3003"/><text class="m" x="5851" y="3017"><tspan x="5851">+ filterUserIdsForCurrentUsers</tspan><tspan x="5851" dy="14.7">PositionsAndPermission()</tspan><tspan x="5851" dy="14.7">+ filterUserIdsByPositionOfCurrentUser()</tspan><tspan x="5851" dy="14.7">+ filterUserIdsByPositionOfUser()</tspan><tspan x="5851" dy="14.7">+ checkPositionAccess()</tspan><tspan x="5851" dy="14.7">+ hasUserRBACOrPositionAccess()</tspan><tspan x="5851" dy="14.7">+ checkRbacOrPositionPermission</tspan><tspan x="5851" dy="14.7">Access()</tspan><tspan x="5851" dy="14.7">+ filterUserIdsByRbacOrPosition</tspan><tspan x="5851" dy="14.7">OfCurrentUser()</tspan><tspan x="5851" dy="14.7">+ hasCurrentUserAnyPositionAccess()</tspan><tspan x="5851" dy="14.7">+ hasPositionAccess()</tspan></text></g>

<g id="n_ilOrgUnitPositionAndRBACAccessHandler"><rect class="b" x="6113" y="3005" width="205" height="165"/><text class="c" x="6215" y="3021"><tspan x="6215">ilOrgUnitPositionAndRBACAccess</tspan><tspan x="6215" dy="14.7">Handler</tspan></text><line class="s" x1="6113" y1="3041" x2="6318" y2="3041"/><line class="s" x1="6113" y1="3061" x2="6318" y2="3061"/><text class="m" x="6120" y="3075"><tspan x="6120">+ checkRbacOrPositionPermission</tspan><tspan x="6120" dy="14.7">Access()</tspan><tspan x="6120" dy="14.7">+ filterUserIdsByRbacOrPosition</tspan><tspan x="6120" dy="14.7">OfCurrentUser()</tspan><tspan x="6120" dy="14.7">+ hasUserRBACOrPositionAccess()</tspan><tspan x="6120" dy="14.7">+ isPositionAccess()</tspan></text></g>

<g id="n_ilRBACAccessHandler"><rect class="b" x="6364" y="2975" width="220" height="225"/><text class="c" x="6474" y="2991">ilRBACAccessHandler</text><line class="s" x1="6364" y1="2996" x2="6584" y2="2996"/><line class="s" x1="6364" y1="3016" x2="6584" y2="3016"/><text class="m" x="6371" y="3030"><tspan x="6371">+ checkAccessOfUser()</tspan><tspan x="6371" dy="14.7">+ getAvailablePermissions()</tspan><tspan x="6371" dy="14.7">+ getPermissionTypes()</tspan><tspan x="6371" dy="14.7">+ checkAccess()</tspan><tspan x="6371" dy="14.7">+ getInfo()</tspan><tspan x="6371" dy="14.7">+ getResultLast()</tspan><tspan x="6371" dy="14.7">+ getResultAll()</tspan><tspan x="6371" dy="14.7">+ addInfoItem()</tspan><tspan x="6371" dy="14.7">+ isCurrentUserBasedOnPositions()</tspan><tspan x="6371" dy="14.7">+ setPreventCachingLastResult()</tspan><tspan x="6371" dy="14.7">+ getPreventCachingLastResult()</tspan><tspan x="6371" dy="14.7">and 17 more...</tspan></text></g>

<g id="n_ilAccessHandler"><rect class="b" x="6051" y="3798" width="99" height="77"/><text class="c" x="6100" y="3814">ilAccessHandler</text><line class="s" x1="6051" y1="3819" x2="6150" y2="3819"/><line class="s" x1="6051" y1="3839" x2="6150" y2="3839"/></g>

<g id="n_ilExAssignmentTypes"><rect class="b" x="6397" y="3742" width="193" height="191"/><text class="c" x="6493" y="3758">ilExAssignmentTypes</text><line class="s" x1="6397" y1="3763" x2="6590" y2="3763"/><line class="s" x1="6397" y1="3783" x2="6590" y2="3783"/><text class="m" x="6404" y="3797"><tspan x="6404">+ getAllIds()</tspan><tspan x="6404" dy="14.7">+ isValidId()</tspan><tspan x="6404" dy="14.7">+ getAll()</tspan><tspan x="6404" dy="14.7">+ getAllActivated()</tspan><tspan x="6404" dy="14.7">+ getAllAllowed()</tspan><tspan x="6404" dy="14.7">+ getById()</tspan><tspan x="6404" dy="14.7">+ getIdsForSubmissionType()</tspan><tspan x="6404" dy="14.7">+ getAllForSubmissionType()</tspan><tspan x="6404" dy="14.7">+ getInstance()</tspan><tspan x="6404" dy="14.7"># __construct()</tspan></text></g>

<g id="n_ilExAssignment"><rect class="b" x="5406" y="4280" width="236" height="702"/><text class="c" x="5524" y="4296">ilExAssignment</text><line class="s" x1="5406" y1="4301" x2="5642" y2="4301"/><text class="m" x="5413" y="4315"><tspan x="5413">+ TYPE_UPLOAD</tspan><tspan x="5413" dy="14.3">+ TYPE_BLOG</tspan><tspan x="5413" dy="14.3">+ TYPE_PORTFOLIO</tspan><tspan x="5413" dy="14.3">+ TYPE_UPLOAD_TEAM</tspan><tspan x="5413" dy="14.3">+ TYPE_TEXT</tspan><tspan x="5413" dy="14.3">+ FEEDBACK_DATE_CUSTOM</tspan><tspan x="5413" dy="14.3">+ PEER_REVIEW_VALID_NONE</tspan><tspan x="5413" dy="14.3">+ TEAMS_FORMED_BY_RANDOM</tspan><tspan x="5413" dy="14.3"># $id</tspan><tspan x="5413" dy="14.3"># $type</tspan><tspan x="5413" dy="14.3"># $start_time</tspan><tspan x="5413" dy="14.3"># $deadline2</tspan><tspan x="5413" dy="14.3"># $order_nr</tspan><tspan x="5413" dy="14.3"># $peer_dl</tspan><tspan x="5413" dy="14.3"># $peer_char</tspan><tspan x="5413" dy="14.3"># $peer_crit_cat</tspan><tspan x="5413" dy="14.3"># $feedback_date</tspan><tspan x="5413" dy="14.3"># $feedback_date_custom</tspan><tspan x="5413" dy="14.3"># $deadline_mode</tspan><tspan x="5413" dy="14.3"># $crit_cat</tspan></text><line class="s" x1="5406" y1="4605" x2="5642" y2="4605"/><text class="m" x="5413" y="4618"><tspan x="5413">+ __construct()</tspan><tspan x="5413" dy="14.5">+ hasTeam()</tspan><tspan x="5413" dy="14.5">+ setId()</tspan><tspan x="5413" dy="14.5">+ getId()</tspan><tspan x="5413" dy="14.5">+ setExerciseId()</tspan><tspan x="5413" dy="14.5">+ getExerciseId()</tspan><tspan x="5413" dy="14.5">+ setStartTime()</tspan><tspan x="5413" dy="14.5">+ getStartTime()</tspan><tspan x="5413" dy="14.5">+ setDeadline()</tspan><tspan x="5413" dy="14.5">+ getDeadline()</tspan><tspan x="5413" dy="14.5">and 96 more...</tspan><tspan x="5413" dy="14.5">+ getInstancesByExercise()</tspan><tspan x="5413" dy="14.5">+ instructionFileGetFileOrderData()</tspan><tspan x="5413" dy="14.5">+ getAssignmentDataOfExercise()</tspan><tspan x="5413" dy="14.5">+ cloneAssignmentsOfExercise()</tspan><tspan x="5413" dy="14.5">+ lookupMaxOrderNrForEx()</tspan><tspan x="5413" dy="14.5">+ lookupAssignmentOnline()</tspan><tspan x="5413" dy="14.5">+ lookupExerciseId()</tspan><tspan x="5413" dy="14.5">+ lookupTitle()</tspan><tspan x="5413" dy="14.5">+ lookupType()</tspan><tspan x="5413" dy="14.5">+ saveAssOrderOfExercise()</tspan><tspan x="5413" dy="14.5">and 15 more...</tspan><tspan x="5413" dy="14.5"># initFromDB()</tspan><tspan x="5413" dy="14.5"># handleCalendarEntries()</tspan><tspan x="5413" dy="14.5">- lookup()</tspan></text></g>

<g id="n_ilExAssignmentPeerReviewOverviewTableGUI"><rect class="gs" x="5435" y="5048" width="185" height="150"/><text class="c" x="5527" y="5064"><tspan x="5527">ilExAssignmentPeerReview</tspan><tspan x="5527" dy="14.7">OverviewTableGUI</tspan></text><line class="s" x1="5435" y1="5084" x2="5620" y2="5084"/><line class="s" x1="5435" y1="5110" x2="5620" y2="5110"/><text class="m" x="5442" y="5124"><tspan x="5442">+ __construct()</tspan><tspan x="5442" dy="14.7">+ getPanelInfo()</tspan><tspan x="5442" dy="14.7"># translateUserIds()</tspan><tspan x="5442" dy="14.7"># getItems()</tspan><tspan x="5442" dy="14.7"># fillRow()</tspan></text></g>
</svg>
